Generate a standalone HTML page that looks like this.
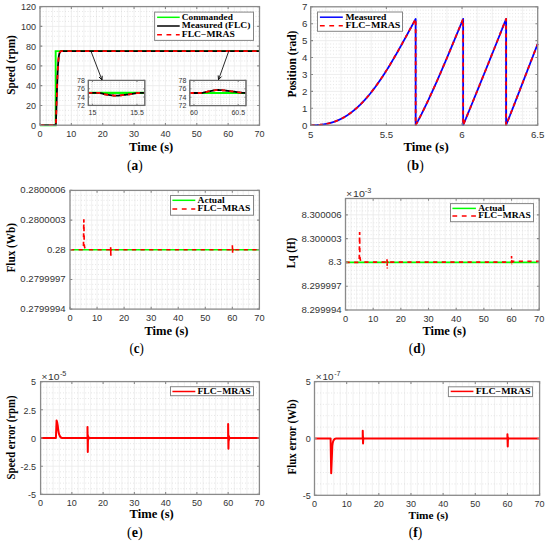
<!DOCTYPE html>
<html><head><meta charset="utf-8"><title>Figure</title>
<style>html,body{margin:0;padding:0;background:#fff;width:550px;height:543px;overflow:hidden}svg{display:block}</style>
</head><body>
<svg width="550" height="543" viewBox="0 0 550 543">
<style>
.mj{stroke:#eaeaea;stroke-width:0.8;fill:none}
.mv{stroke:#ededed;stroke-width:0.8;fill:none}
.mn{stroke:#d2d2d2;stroke-width:0.7;stroke-dasharray:0.8 2.0;fill:none}
.bx{fill:none;stroke:#8a8a8a;stroke-width:1.3}
.tk{fill:none;stroke:#8a8a8a;stroke-width:1.1}
</style>
<rect width="550" height="543" fill="#fff"/>
<line x1="46.27" y1="6.60" x2="46.27" y2="125.20" class="mv"/>
<line x1="52.54" y1="6.60" x2="52.54" y2="125.20" class="mv"/>
<line x1="58.81" y1="6.60" x2="58.81" y2="125.20" class="mv"/>
<line x1="65.09" y1="6.60" x2="65.09" y2="125.20" class="mv"/>
<line x1="77.63" y1="6.60" x2="77.63" y2="125.20" class="mv"/>
<line x1="83.90" y1="6.60" x2="83.90" y2="125.20" class="mv"/>
<line x1="90.17" y1="6.60" x2="90.17" y2="125.20" class="mv"/>
<line x1="96.44" y1="6.60" x2="96.44" y2="125.20" class="mv"/>
<line x1="108.99" y1="6.60" x2="108.99" y2="125.20" class="mv"/>
<line x1="115.26" y1="6.60" x2="115.26" y2="125.20" class="mv"/>
<line x1="121.53" y1="6.60" x2="121.53" y2="125.20" class="mv"/>
<line x1="127.80" y1="6.60" x2="127.80" y2="125.20" class="mv"/>
<line x1="140.34" y1="6.60" x2="140.34" y2="125.20" class="mv"/>
<line x1="146.61" y1="6.60" x2="146.61" y2="125.20" class="mv"/>
<line x1="152.89" y1="6.60" x2="152.89" y2="125.20" class="mv"/>
<line x1="159.16" y1="6.60" x2="159.16" y2="125.20" class="mv"/>
<line x1="171.70" y1="6.60" x2="171.70" y2="125.20" class="mv"/>
<line x1="177.97" y1="6.60" x2="177.97" y2="125.20" class="mv"/>
<line x1="184.24" y1="6.60" x2="184.24" y2="125.20" class="mv"/>
<line x1="190.51" y1="6.60" x2="190.51" y2="125.20" class="mv"/>
<line x1="203.06" y1="6.60" x2="203.06" y2="125.20" class="mv"/>
<line x1="209.33" y1="6.60" x2="209.33" y2="125.20" class="mv"/>
<line x1="215.60" y1="6.60" x2="215.60" y2="125.20" class="mv"/>
<line x1="221.87" y1="6.60" x2="221.87" y2="125.20" class="mv"/>
<line x1="234.41" y1="6.60" x2="234.41" y2="125.20" class="mv"/>
<line x1="240.69" y1="6.60" x2="240.69" y2="125.20" class="mv"/>
<line x1="246.96" y1="6.60" x2="246.96" y2="125.20" class="mv"/>
<line x1="253.23" y1="6.60" x2="253.23" y2="125.20" class="mv"/>
<line x1="40.00" y1="120.26" x2="259.50" y2="120.26" class="mn"/>
<line x1="40.00" y1="115.32" x2="259.50" y2="115.32" class="mn"/>
<line x1="40.00" y1="110.38" x2="259.50" y2="110.38" class="mn"/>
<line x1="40.00" y1="100.49" x2="259.50" y2="100.49" class="mn"/>
<line x1="40.00" y1="95.55" x2="259.50" y2="95.55" class="mn"/>
<line x1="40.00" y1="90.61" x2="259.50" y2="90.61" class="mn"/>
<line x1="40.00" y1="80.72" x2="259.50" y2="80.72" class="mn"/>
<line x1="40.00" y1="75.78" x2="259.50" y2="75.78" class="mn"/>
<line x1="40.00" y1="70.84" x2="259.50" y2="70.84" class="mn"/>
<line x1="40.00" y1="60.96" x2="259.50" y2="60.96" class="mn"/>
<line x1="40.00" y1="56.02" x2="259.50" y2="56.02" class="mn"/>
<line x1="40.00" y1="51.08" x2="259.50" y2="51.08" class="mn"/>
<line x1="40.00" y1="41.19" x2="259.50" y2="41.19" class="mn"/>
<line x1="40.00" y1="36.25" x2="259.50" y2="36.25" class="mn"/>
<line x1="40.00" y1="31.31" x2="259.50" y2="31.31" class="mn"/>
<line x1="40.00" y1="21.42" x2="259.50" y2="21.42" class="mn"/>
<line x1="40.00" y1="16.48" x2="259.50" y2="16.48" class="mn"/>
<line x1="40.00" y1="11.54" x2="259.50" y2="11.54" class="mn"/>
<line x1="71.36" y1="6.60" x2="71.36" y2="125.20" class="mj"/>
<line x1="102.71" y1="6.60" x2="102.71" y2="125.20" class="mj"/>
<line x1="134.07" y1="6.60" x2="134.07" y2="125.20" class="mj"/>
<line x1="165.43" y1="6.60" x2="165.43" y2="125.20" class="mj"/>
<line x1="196.79" y1="6.60" x2="196.79" y2="125.20" class="mj"/>
<line x1="228.14" y1="6.60" x2="228.14" y2="125.20" class="mj"/>
<line x1="40.00" y1="105.43" x2="259.50" y2="105.43" class="mj"/>
<line x1="40.00" y1="85.67" x2="259.50" y2="85.67" class="mj"/>
<line x1="40.00" y1="65.90" x2="259.50" y2="65.90" class="mj"/>
<line x1="40.00" y1="46.13" x2="259.50" y2="46.13" class="mj"/>
<line x1="40.00" y1="26.37" x2="259.50" y2="26.37" class="mj"/>
<path d="M40.00,125.20 L55.68,125.20 L55.68,51.08 L259.50,51.08" fill="none" stroke="#00ff00" stroke-width="1.9"/>
<path d="M40.00,125.20 L55.68,125.20 L55.68,125.20 L55.80,124.18 L55.92,122.14 L56.04,119.46 L56.15,116.32 L56.27,112.84 L56.39,109.14 L56.51,105.31 L56.63,101.42 L56.75,97.54 L56.87,93.72 L56.99,90.01 L57.11,86.44 L57.23,83.04 L57.35,79.82 L57.46,76.82 L57.58,74.02 L57.70,71.43 L57.82,69.06 L57.94,66.90 L58.06,64.95 L58.18,63.18 L58.30,61.60 L58.42,60.19 L58.54,58.94 L58.66,57.83 L58.77,56.86 L58.89,56.01 L59.01,55.27 L59.13,54.63 L59.25,54.08 L59.37,53.60 L59.49,53.19 L59.61,52.85 L59.73,52.55 L59.85,52.30 L59.97,52.09 L60.08,51.91 L60.20,51.76 L60.32,51.64 L60.44,51.54 L60.56,51.45 L60.68,51.38 L60.80,51.32 L60.92,51.27 L61.04,51.24 L61.16,51.20 L61.28,51.18 L61.39,51.16 L61.51,51.14 L61.63,51.13 L61.75,51.12 L61.87,51.11 L61.99,51.10 L62.11,51.10 L62.23,51.09 L62.35,51.09 L62.47,51.08 L62.59,51.08 L62.70,51.08 L62.82,51.08 L62.94,51.08 L63.06,51.08 L63.18,51.08 L63.30,51.08 L63.42,51.08 L63.54,51.08 L63.66,51.08 L63.78,51.08 L63.89,51.08 L64.01,51.08 L64.13,51.08 L64.25,51.08 L64.37,51.08 L64.49,51.08 L64.61,51.08 L64.73,51.08 L64.85,51.08 L64.97,51.08 L65.09,51.08 L259.50,51.08" fill="none" stroke="#000" stroke-width="1.8"/>
<path d="M40.00,125.20 L55.68,125.20 L55.68,125.20 L55.80,124.18 L55.92,122.14 L56.04,119.46 L56.15,116.32 L56.27,112.84 L56.39,109.14 L56.51,105.31 L56.63,101.42 L56.75,97.54 L56.87,93.72 L56.99,90.01 L57.11,86.44 L57.23,83.04 L57.35,79.82 L57.46,76.82 L57.58,74.02 L57.70,71.43 L57.82,69.06 L57.94,66.90 L58.06,64.95 L58.18,63.18 L58.30,61.60 L58.42,60.19 L58.54,58.94 L58.66,57.83 L58.77,56.86 L58.89,56.01 L59.01,55.27 L59.13,54.63 L59.25,54.08 L59.37,53.60 L59.49,53.19 L59.61,52.85 L59.73,52.55 L59.85,52.30 L59.97,52.09 L60.08,51.91 L60.20,51.76 L60.32,51.64 L60.44,51.54 L60.56,51.45 L60.68,51.38 L60.80,51.32 L60.92,51.27 L61.04,51.24 L61.16,51.20 L61.28,51.18 L61.39,51.16 L61.51,51.14 L61.63,51.13 L61.75,51.12 L61.87,51.11 L61.99,51.10 L62.11,51.10 L62.23,51.09 L62.35,51.09 L62.47,51.08 L62.59,51.08 L62.70,51.08 L62.82,51.08 L62.94,51.08 L63.06,51.08 L63.18,51.08 L63.30,51.08 L63.42,51.08 L63.54,51.08 L63.66,51.08 L63.78,51.08 L63.89,51.08 L64.01,51.08 L64.13,51.08 L64.25,51.08 L64.37,51.08 L64.49,51.08 L64.61,51.08 L64.73,51.08 L64.85,51.08 L64.97,51.08 L65.09,51.08 L259.50,51.08" fill="none" stroke="#ff0000" stroke-width="1.8" stroke-dasharray="4.4 4.4"/>
<path d="M40.00 125.20v-2.3M40.00 6.60v2.3M71.36 125.20v-2.3M71.36 6.60v2.3M102.71 125.20v-2.3M102.71 6.60v2.3M134.07 125.20v-2.3M134.07 6.60v2.3M165.43 125.20v-2.3M165.43 6.60v2.3M196.79 125.20v-2.3M196.79 6.60v2.3M228.14 125.20v-2.3M228.14 6.60v2.3M259.50 125.20v-2.3M259.50 6.60v2.3M40.00 125.20h2.3M259.50 125.20h-2.3M40.00 105.43h2.3M259.50 105.43h-2.3M40.00 85.67h2.3M259.50 85.67h-2.3M40.00 65.90h2.3M259.50 65.90h-2.3M40.00 46.13h2.3M259.50 46.13h-2.3M40.00 26.37h2.3M259.50 26.37h-2.3M40.00 6.60h2.3M259.50 6.60h-2.3" class="tk"/>
<rect x="40.00" y="6.60" width="219.50" height="118.60" class="bx"/>
<text transform="translate(40.00,137.10) scale(1.1,1)" text-anchor="middle" font-family='"Liberation Sans", sans-serif' font-weight="normal" font-size="8.2" fill="#333" >0</text>
<text transform="translate(71.36,137.10) scale(1.1,1)" text-anchor="middle" font-family='"Liberation Sans", sans-serif' font-weight="normal" font-size="8.2" fill="#333" >10</text>
<text transform="translate(102.71,137.10) scale(1.1,1)" text-anchor="middle" font-family='"Liberation Sans", sans-serif' font-weight="normal" font-size="8.2" fill="#333" >20</text>
<text transform="translate(134.07,137.10) scale(1.1,1)" text-anchor="middle" font-family='"Liberation Sans", sans-serif' font-weight="normal" font-size="8.2" fill="#333" >30</text>
<text transform="translate(165.43,137.10) scale(1.1,1)" text-anchor="middle" font-family='"Liberation Sans", sans-serif' font-weight="normal" font-size="8.2" fill="#333" >40</text>
<text transform="translate(196.79,137.10) scale(1.1,1)" text-anchor="middle" font-family='"Liberation Sans", sans-serif' font-weight="normal" font-size="8.2" fill="#333" >50</text>
<text transform="translate(228.14,137.10) scale(1.1,1)" text-anchor="middle" font-family='"Liberation Sans", sans-serif' font-weight="normal" font-size="8.2" fill="#333" >60</text>
<text transform="translate(259.50,137.10) scale(1.1,1)" text-anchor="middle" font-family='"Liberation Sans", sans-serif' font-weight="normal" font-size="8.2" fill="#333" >70</text>
<text transform="translate(36.00,128.90) scale(1.1,1)" text-anchor="end" font-family='"Liberation Sans", sans-serif' font-weight="normal" font-size="8.2" fill="#333" >0</text>
<text transform="translate(36.00,109.13) scale(1.1,1)" text-anchor="end" font-family='"Liberation Sans", sans-serif' font-weight="normal" font-size="8.2" fill="#333" >20</text>
<text transform="translate(36.00,89.37) scale(1.1,1)" text-anchor="end" font-family='"Liberation Sans", sans-serif' font-weight="normal" font-size="8.2" fill="#333" >40</text>
<text transform="translate(36.00,69.60) scale(1.1,1)" text-anchor="end" font-family='"Liberation Sans", sans-serif' font-weight="normal" font-size="8.2" fill="#333" >60</text>
<text transform="translate(36.00,49.83) scale(1.1,1)" text-anchor="end" font-family='"Liberation Sans", sans-serif' font-weight="normal" font-size="8.2" fill="#333" >80</text>
<text transform="translate(36.00,30.07) scale(1.1,1)" text-anchor="end" font-family='"Liberation Sans", sans-serif' font-weight="normal" font-size="8.2" fill="#333" >100</text>
<text transform="translate(36.00,10.30) scale(1.1,1)" text-anchor="end" font-family='"Liberation Sans", sans-serif' font-weight="normal" font-size="8.2" fill="#333" >120</text>
<rect x="88.3" y="80.4" width="56.50" height="25.00" fill="#fff"/>
<line x1="101.38" y1="80.40" x2="101.38" y2="105.40" class="mv"/>
<line x1="110.28" y1="80.40" x2="110.28" y2="105.40" class="mv"/>
<line x1="119.17" y1="80.40" x2="119.17" y2="105.40" class="mv"/>
<line x1="128.07" y1="80.40" x2="128.07" y2="105.40" class="mv"/>
<line x1="88.30" y1="103.32" x2="144.80" y2="103.32" class="mn"/>
<line x1="88.30" y1="101.23" x2="144.80" y2="101.23" class="mn"/>
<line x1="88.30" y1="99.15" x2="144.80" y2="99.15" class="mn"/>
<line x1="88.30" y1="94.98" x2="144.80" y2="94.98" class="mn"/>
<line x1="88.30" y1="92.90" x2="144.80" y2="92.90" class="mn"/>
<line x1="88.30" y1="90.82" x2="144.80" y2="90.82" class="mn"/>
<line x1="88.30" y1="86.65" x2="144.80" y2="86.65" class="mn"/>
<line x1="88.30" y1="84.57" x2="144.80" y2="84.57" class="mn"/>
<line x1="88.30" y1="82.48" x2="144.80" y2="82.48" class="mn"/>
<line x1="92.48" y1="80.40" x2="92.48" y2="105.40" class="mj"/>
<line x1="136.97" y1="80.40" x2="136.97" y2="105.40" class="mj"/>
<line x1="88.30" y1="97.07" x2="144.80" y2="97.07" class="mj"/>
<line x1="88.30" y1="88.73" x2="144.80" y2="88.73" class="mj"/>
<line x1="88.3" y1="92.90" x2="144.8" y2="92.90" stroke="#00ff00" stroke-width="2.2"/>
<path d="M88.30,92.90 L89.02,92.90 L89.73,92.90 L90.45,92.90 L91.16,92.90 L91.88,92.90 L92.59,92.90 L93.31,92.90 L94.02,92.90 L94.74,92.90 L95.45,92.90 L96.17,92.90 L96.88,92.90 L97.60,92.90 L98.31,92.90 L99.03,92.92 L99.74,92.99 L100.46,93.11 L101.17,93.27 L101.89,93.46 L102.60,93.66 L103.32,93.87 L104.03,94.07 L104.75,94.25 L105.46,94.41 L106.18,94.53 L106.89,94.63 L107.61,94.74 L108.33,94.85 L109.04,94.96 L109.76,95.06 L110.47,95.16 L111.19,95.26 L111.90,95.34 L112.62,95.42 L113.33,95.48 L114.05,95.54 L114.76,95.57 L115.48,95.60 L116.19,95.60 L116.91,95.59 L117.62,95.57 L118.34,95.53 L119.05,95.48 L119.77,95.43 L120.48,95.37 L121.20,95.30 L121.91,95.22 L122.63,95.14 L123.34,95.05 L124.06,94.97 L124.77,94.88 L125.49,94.79 L126.21,94.70 L126.92,94.62 L127.64,94.54 L128.35,94.46 L129.07,94.37 L129.78,94.27 L130.50,94.16 L131.21,94.05 L131.93,93.93 L132.64,93.81 L133.36,93.68 L134.07,93.56 L134.79,93.45 L135.50,93.33 L136.22,93.23 L136.93,93.14 L137.65,93.06 L138.36,92.99 L139.08,92.94 L139.79,92.91 L140.51,92.90 L141.22,92.90 L141.94,92.90 L142.65,92.90 L143.37,92.90 L144.08,92.90 L144.80,92.90" fill="none" stroke="#000" stroke-width="1.8"/>
<path d="M88.30,92.90 L89.02,92.90 L89.73,92.90 L90.45,92.90 L91.16,92.90 L91.88,92.90 L92.59,92.90 L93.31,92.90 L94.02,92.90 L94.74,92.90 L95.45,92.90 L96.17,92.90 L96.88,92.90 L97.60,92.90 L98.31,92.90 L99.03,92.92 L99.74,92.99 L100.46,93.11 L101.17,93.27 L101.89,93.46 L102.60,93.66 L103.32,93.87 L104.03,94.07 L104.75,94.25 L105.46,94.41 L106.18,94.53 L106.89,94.63 L107.61,94.74 L108.33,94.85 L109.04,94.96 L109.76,95.06 L110.47,95.16 L111.19,95.26 L111.90,95.34 L112.62,95.42 L113.33,95.48 L114.05,95.54 L114.76,95.57 L115.48,95.60 L116.19,95.60 L116.91,95.59 L117.62,95.57 L118.34,95.53 L119.05,95.48 L119.77,95.43 L120.48,95.37 L121.20,95.30 L121.91,95.22 L122.63,95.14 L123.34,95.05 L124.06,94.97 L124.77,94.88 L125.49,94.79 L126.21,94.70 L126.92,94.62 L127.64,94.54 L128.35,94.46 L129.07,94.37 L129.78,94.27 L130.50,94.16 L131.21,94.05 L131.93,93.93 L132.64,93.81 L133.36,93.68 L134.07,93.56 L134.79,93.45 L135.50,93.33 L136.22,93.23 L136.93,93.14 L137.65,93.06 L138.36,92.99 L139.08,92.94 L139.79,92.91 L140.51,92.90 L141.22,92.90 L141.94,92.90 L142.65,92.90 L143.37,92.90 L144.08,92.90 L144.80,92.90" fill="none" stroke="#ff0000" stroke-width="1.8" stroke-dasharray="4 4"/>
<path d="M92.48 105.40v-1.6M92.48 80.40v1.6M136.97 105.40v-1.6M136.97 80.40v1.6M88.30 105.40h1.6M144.80 105.40h-1.6M88.30 97.07h1.6M144.80 97.07h-1.6M88.30 88.73h1.6M144.80 88.73h-1.6M88.30 80.40h1.6M144.80 80.40h-1.6" class="tk"/>
<rect x="88.30" y="80.40" width="56.50" height="25.00" class="bx"/>
<rect x="88.3" y="80.4" width="56.50" height="25.00" fill="none" stroke="#666" stroke-width="0.9"/>
<text transform="translate(84.90,107.90) scale(1.0,1)" text-anchor="end" font-family='"Liberation Sans", sans-serif' font-weight="normal" font-size="7.0" fill="#333" >72</text>
<text transform="translate(84.90,99.57) scale(1.0,1)" text-anchor="end" font-family='"Liberation Sans", sans-serif' font-weight="normal" font-size="7.0" fill="#333" >74</text>
<text transform="translate(84.90,91.23) scale(1.0,1)" text-anchor="end" font-family='"Liberation Sans", sans-serif' font-weight="normal" font-size="7.0" fill="#333" >76</text>
<text transform="translate(84.90,82.90) scale(1.0,1)" text-anchor="end" font-family='"Liberation Sans", sans-serif' font-weight="normal" font-size="7.0" fill="#333" >78</text>
<text transform="translate(92.48,115.10) scale(1.0,1)" text-anchor="middle" font-family='"Liberation Sans", sans-serif' font-weight="normal" font-size="7.0" fill="#333" >15</text>
<text transform="translate(136.97,115.10) scale(1.0,1)" text-anchor="middle" font-family='"Liberation Sans", sans-serif' font-weight="normal" font-size="7.0" fill="#333" >15.5</text>
<rect x="189.8" y="80.4" width="56.20" height="25.20" fill="#fff"/>
<line x1="202.81" y1="80.40" x2="202.81" y2="105.60" class="mv"/>
<line x1="211.66" y1="80.40" x2="211.66" y2="105.60" class="mv"/>
<line x1="220.51" y1="80.40" x2="220.51" y2="105.60" class="mv"/>
<line x1="229.36" y1="80.40" x2="229.36" y2="105.60" class="mv"/>
<line x1="189.80" y1="103.50" x2="246.00" y2="103.50" class="mn"/>
<line x1="189.80" y1="101.40" x2="246.00" y2="101.40" class="mn"/>
<line x1="189.80" y1="99.30" x2="246.00" y2="99.30" class="mn"/>
<line x1="189.80" y1="95.10" x2="246.00" y2="95.10" class="mn"/>
<line x1="189.80" y1="93.00" x2="246.00" y2="93.00" class="mn"/>
<line x1="189.80" y1="90.90" x2="246.00" y2="90.90" class="mn"/>
<line x1="189.80" y1="86.70" x2="246.00" y2="86.70" class="mn"/>
<line x1="189.80" y1="84.60" x2="246.00" y2="84.60" class="mn"/>
<line x1="189.80" y1="82.50" x2="246.00" y2="82.50" class="mn"/>
<line x1="193.96" y1="80.40" x2="193.96" y2="105.60" class="mj"/>
<line x1="238.21" y1="80.40" x2="238.21" y2="105.60" class="mj"/>
<line x1="189.80" y1="97.20" x2="246.00" y2="97.20" class="mj"/>
<line x1="189.80" y1="88.80" x2="246.00" y2="88.80" class="mj"/>
<line x1="189.8" y1="93.00" x2="246.0" y2="93.00" stroke="#00ff00" stroke-width="2.2"/>
<path d="M189.80,93.00 L190.51,93.00 L191.22,93.00 L191.93,93.00 L192.65,93.00 L193.36,93.00 L194.07,93.00 L194.78,93.00 L195.49,93.00 L196.20,93.00 L196.91,93.00 L197.63,93.00 L198.34,93.00 L199.05,93.00 L199.76,93.00 L200.47,93.00 L201.18,92.97 L201.89,92.90 L202.61,92.79 L203.32,92.65 L204.03,92.49 L204.74,92.32 L205.45,92.13 L206.16,91.94 L206.87,91.76 L207.58,91.59 L208.30,91.43 L209.01,91.30 L209.72,91.18 L210.43,91.04 L211.14,90.91 L211.85,90.77 L212.56,90.64 L213.28,90.51 L213.99,90.39 L214.70,90.28 L215.41,90.18 L216.12,90.10 L216.83,90.04 L217.54,90.01 L218.26,90.00 L218.97,90.01 L219.68,90.03 L220.39,90.07 L221.10,90.11 L221.81,90.17 L222.52,90.23 L223.24,90.30 L223.95,90.38 L224.66,90.47 L225.37,90.55 L226.08,90.64 L226.79,90.74 L227.50,90.83 L228.22,90.93 L228.93,91.02 L229.64,91.12 L230.35,91.21 L231.06,91.29 L231.77,91.38 L232.48,91.45 L233.19,91.54 L233.91,91.63 L234.62,91.73 L235.33,91.84 L236.04,91.95 L236.75,92.05 L237.46,92.16 L238.17,92.27 L238.89,92.38 L239.60,92.48 L240.31,92.58 L241.02,92.67 L241.73,92.75 L242.44,92.82 L243.15,92.88 L243.87,92.93 L244.58,92.97 L245.29,92.99 L246.00,93.00" fill="none" stroke="#000" stroke-width="1.8"/>
<path d="M189.80,93.00 L190.51,93.00 L191.22,93.00 L191.93,93.00 L192.65,93.00 L193.36,93.00 L194.07,93.00 L194.78,93.00 L195.49,93.00 L196.20,93.00 L196.91,93.00 L197.63,93.00 L198.34,93.00 L199.05,93.00 L199.76,93.00 L200.47,93.00 L201.18,92.97 L201.89,92.90 L202.61,92.79 L203.32,92.65 L204.03,92.49 L204.74,92.32 L205.45,92.13 L206.16,91.94 L206.87,91.76 L207.58,91.59 L208.30,91.43 L209.01,91.30 L209.72,91.18 L210.43,91.04 L211.14,90.91 L211.85,90.77 L212.56,90.64 L213.28,90.51 L213.99,90.39 L214.70,90.28 L215.41,90.18 L216.12,90.10 L216.83,90.04 L217.54,90.01 L218.26,90.00 L218.97,90.01 L219.68,90.03 L220.39,90.07 L221.10,90.11 L221.81,90.17 L222.52,90.23 L223.24,90.30 L223.95,90.38 L224.66,90.47 L225.37,90.55 L226.08,90.64 L226.79,90.74 L227.50,90.83 L228.22,90.93 L228.93,91.02 L229.64,91.12 L230.35,91.21 L231.06,91.29 L231.77,91.38 L232.48,91.45 L233.19,91.54 L233.91,91.63 L234.62,91.73 L235.33,91.84 L236.04,91.95 L236.75,92.05 L237.46,92.16 L238.17,92.27 L238.89,92.38 L239.60,92.48 L240.31,92.58 L241.02,92.67 L241.73,92.75 L242.44,92.82 L243.15,92.88 L243.87,92.93 L244.58,92.97 L245.29,92.99 L246.00,93.00" fill="none" stroke="#ff0000" stroke-width="1.8" stroke-dasharray="4 4"/>
<path d="M193.96 105.60v-1.6M193.96 80.40v1.6M238.21 105.60v-1.6M238.21 80.40v1.6M189.80 105.60h1.6M246.00 105.60h-1.6M189.80 97.20h1.6M246.00 97.20h-1.6M189.80 88.80h1.6M246.00 88.80h-1.6M189.80 80.40h1.6M246.00 80.40h-1.6" class="tk"/>
<rect x="189.80" y="80.40" width="56.20" height="25.20" class="bx"/>
<rect x="189.8" y="80.4" width="56.20" height="25.20" fill="none" stroke="#666" stroke-width="0.9"/>
<text transform="translate(186.40,108.10) scale(1.0,1)" text-anchor="end" font-family='"Liberation Sans", sans-serif' font-weight="normal" font-size="7.0" fill="#333" >72</text>
<text transform="translate(186.40,99.70) scale(1.0,1)" text-anchor="end" font-family='"Liberation Sans", sans-serif' font-weight="normal" font-size="7.0" fill="#333" >74</text>
<text transform="translate(186.40,91.30) scale(1.0,1)" text-anchor="end" font-family='"Liberation Sans", sans-serif' font-weight="normal" font-size="7.0" fill="#333" >76</text>
<text transform="translate(186.40,82.90) scale(1.0,1)" text-anchor="end" font-family='"Liberation Sans", sans-serif' font-weight="normal" font-size="7.0" fill="#333" >78</text>
<text transform="translate(193.96,115.10) scale(1.0,1)" text-anchor="middle" font-family='"Liberation Sans", sans-serif' font-weight="normal" font-size="7.0" fill="#333" >60</text>
<text transform="translate(238.21,115.10) scale(1.0,1)" text-anchor="middle" font-family='"Liberation Sans", sans-serif' font-weight="normal" font-size="7.0" fill="#333" >60.5</text>
<line x1="90.9" y1="51.0" x2="102.0" y2="80.0" stroke="#111" stroke-width="0.9"/>
<path d="M98.96,76.96 L102.0,80.0 L102.23,75.71" fill="none" stroke="#111" stroke-width="1.0"/>
<line x1="228.9" y1="50.7" x2="218.5" y2="79.7" stroke="#111" stroke-width="0.9"/>
<path d="M218.17,75.41 L218.5,79.7 L221.48,76.60" fill="none" stroke="#111" stroke-width="1.0"/>
<rect x="154.6" y="12.1" width="98.90" height="28.30" fill="#fff" stroke="#858585" stroke-width="1.0"/>
<line x1="157.1" y1="17.3" x2="179.7" y2="17.3" stroke="#00ff00" stroke-width="1.5"/>
<text x="181.80" y="19.70" textLength="51.00" lengthAdjust="spacingAndGlyphs" font-family='"Liberation Serif", serif' font-weight="bold" font-size="8.4" fill="#000">Commanded</text>
<line x1="157.1" y1="26.0" x2="179.7" y2="26.0" stroke="#000" stroke-width="1.5"/>
<text x="181.80" y="28.40" textLength="68.60" lengthAdjust="spacingAndGlyphs" font-family='"Liberation Serif", serif' font-weight="bold" font-size="8.4" fill="#000">Measured (FLC)</text>
<line x1="157.1" y1="34.7" x2="179.7" y2="34.7" stroke="#ff0000" stroke-width="1.5" stroke-dasharray="4.8 4.6"/>
<text x="181.80" y="37.10" textLength="53.00" lengthAdjust="spacingAndGlyphs" font-family='"Liberation Serif", serif' font-weight="bold" font-size="8.4" fill="#000">FLC−MRAS</text>
<text transform="translate(14.80,94.80) scale(1.0,1) rotate(-90)" textLength="59.60" lengthAdjust="spacingAndGlyphs" font-family='"Liberation Serif", serif' font-weight="bold" font-size="12.3" fill="#000">Speed (rpm)</text>
<text x="129.10" y="150.50" textLength="44.20" lengthAdjust="spacingAndGlyphs" font-family='"Liberation Serif", serif' font-weight="bold" font-size="11.8" fill="#000">Time (s)</text>
<text x="127.00" y="169.60" textLength="15.60" lengthAdjust="spacingAndGlyphs" font-family='"Liberation Serif", serif' font-size="14.0" fill="#000">(<tspan font-weight="bold">a</tspan>)</text>
<line x1="325.83" y1="6.80" x2="325.83" y2="125.20" class="mv"/>
<line x1="340.97" y1="6.80" x2="340.97" y2="125.20" class="mv"/>
<line x1="356.10" y1="6.80" x2="356.10" y2="125.20" class="mv"/>
<line x1="371.23" y1="6.80" x2="371.23" y2="125.20" class="mv"/>
<line x1="401.50" y1="6.80" x2="401.50" y2="125.20" class="mv"/>
<line x1="416.63" y1="6.80" x2="416.63" y2="125.20" class="mv"/>
<line x1="431.77" y1="6.80" x2="431.77" y2="125.20" class="mv"/>
<line x1="446.90" y1="6.80" x2="446.90" y2="125.20" class="mv"/>
<line x1="477.17" y1="6.80" x2="477.17" y2="125.20" class="mv"/>
<line x1="492.30" y1="6.80" x2="492.30" y2="125.20" class="mv"/>
<line x1="507.43" y1="6.80" x2="507.43" y2="125.20" class="mv"/>
<line x1="522.57" y1="6.80" x2="522.57" y2="125.20" class="mv"/>
<line x1="310.70" y1="121.82" x2="537.70" y2="121.82" class="mn"/>
<line x1="310.70" y1="118.43" x2="537.70" y2="118.43" class="mn"/>
<line x1="310.70" y1="115.05" x2="537.70" y2="115.05" class="mn"/>
<line x1="310.70" y1="111.67" x2="537.70" y2="111.67" class="mn"/>
<line x1="310.70" y1="104.90" x2="537.70" y2="104.90" class="mn"/>
<line x1="310.70" y1="101.52" x2="537.70" y2="101.52" class="mn"/>
<line x1="310.70" y1="98.14" x2="537.70" y2="98.14" class="mn"/>
<line x1="310.70" y1="94.75" x2="537.70" y2="94.75" class="mn"/>
<line x1="310.70" y1="87.99" x2="537.70" y2="87.99" class="mn"/>
<line x1="310.70" y1="84.61" x2="537.70" y2="84.61" class="mn"/>
<line x1="310.70" y1="81.22" x2="537.70" y2="81.22" class="mn"/>
<line x1="310.70" y1="77.84" x2="537.70" y2="77.84" class="mn"/>
<line x1="310.70" y1="71.07" x2="537.70" y2="71.07" class="mn"/>
<line x1="310.70" y1="67.69" x2="537.70" y2="67.69" class="mn"/>
<line x1="310.70" y1="64.31" x2="537.70" y2="64.31" class="mn"/>
<line x1="310.70" y1="60.93" x2="537.70" y2="60.93" class="mn"/>
<line x1="310.70" y1="54.16" x2="537.70" y2="54.16" class="mn"/>
<line x1="310.70" y1="50.78" x2="537.70" y2="50.78" class="mn"/>
<line x1="310.70" y1="47.39" x2="537.70" y2="47.39" class="mn"/>
<line x1="310.70" y1="44.01" x2="537.70" y2="44.01" class="mn"/>
<line x1="310.70" y1="37.25" x2="537.70" y2="37.25" class="mn"/>
<line x1="310.70" y1="33.86" x2="537.70" y2="33.86" class="mn"/>
<line x1="310.70" y1="30.48" x2="537.70" y2="30.48" class="mn"/>
<line x1="310.70" y1="27.10" x2="537.70" y2="27.10" class="mn"/>
<line x1="310.70" y1="20.33" x2="537.70" y2="20.33" class="mn"/>
<line x1="310.70" y1="16.95" x2="537.70" y2="16.95" class="mn"/>
<line x1="310.70" y1="13.57" x2="537.70" y2="13.57" class="mn"/>
<line x1="310.70" y1="10.18" x2="537.70" y2="10.18" class="mn"/>
<line x1="386.37" y1="6.80" x2="386.37" y2="125.20" class="mj"/>
<line x1="462.03" y1="6.80" x2="462.03" y2="125.20" class="mj"/>
<line x1="310.70" y1="108.29" x2="537.70" y2="108.29" class="mj"/>
<line x1="310.70" y1="91.37" x2="537.70" y2="91.37" class="mj"/>
<line x1="310.70" y1="74.46" x2="537.70" y2="74.46" class="mj"/>
<line x1="310.70" y1="57.54" x2="537.70" y2="57.54" class="mj"/>
<line x1="310.70" y1="40.63" x2="537.70" y2="40.63" class="mj"/>
<line x1="310.70" y1="23.71" x2="537.70" y2="23.71" class="mj"/>
<path d="M310.70,125.20 L310.85,125.20 L311.00,125.20 L311.15,125.20 L311.31,125.20 L311.46,125.20 L311.61,125.20 L311.76,125.20 L311.91,125.19 L312.06,125.19 L312.21,125.19 L312.36,125.19 L312.52,125.19 L312.67,125.19 L312.82,125.18 L312.97,125.18 L313.12,125.18 L313.27,125.18 L313.42,125.17 L313.58,125.17 L313.73,125.16 L313.88,125.16 L314.03,125.16 L314.18,125.15 L314.33,125.15 L314.48,125.14 L314.63,125.14 L314.79,125.13 L314.94,125.13 L315.09,125.12 L315.24,125.12 L315.39,125.11 L315.54,125.10 L315.69,125.10 L315.85,125.09 L316.00,125.08 L316.15,125.08 L316.30,125.07 L316.45,125.06 L316.60,125.05 L316.75,125.05 L316.90,125.04 L317.06,125.03 L317.21,125.02 L317.36,125.01 L317.51,125.00 L317.66,124.99 L317.81,124.98 L317.96,124.97 L318.12,124.96 L318.27,124.95 L318.42,124.94 L318.57,124.92 L318.72,124.91 L318.87,124.90 L319.02,124.89 L319.17,124.88 L319.33,124.86 L319.48,124.85 L319.63,124.84 L319.78,124.82 L319.93,124.81 L320.08,124.79 L320.23,124.78 L320.39,124.76 L320.54,124.75 L320.69,124.73 L320.84,124.71 L320.99,124.70 L321.14,124.68 L321.29,124.66 L321.44,124.65 L321.60,124.63 L321.75,124.61 L321.90,124.59 L322.05,124.57 L322.20,124.55 L322.35,124.53 L322.50,124.51 L322.66,124.49 L322.81,124.47 L322.96,124.45 L323.11,124.43 L323.26,124.41 L323.41,124.39 L323.56,124.36 L323.71,124.34 L323.87,124.32 L324.02,124.29 L324.17,124.27 L324.32,124.25 L324.47,124.22 L324.62,124.20 L324.77,124.17 L324.93,124.15 L325.08,124.12 L325.23,124.09 L325.38,124.07 L325.53,124.04 L325.68,124.01 L325.83,123.98 L325.98,123.95 L326.14,123.93 L326.29,123.90 L326.44,123.87 L326.59,123.84 L326.74,123.81 L326.89,123.78 L327.04,123.74 L327.20,123.71 L327.35,123.68 L327.50,123.65 L327.65,123.61 L327.80,123.58 L327.95,123.55 L328.10,123.51 L328.25,123.48 L328.41,123.44 L328.56,123.41 L328.71,123.37 L328.86,123.34 L329.01,123.30 L329.16,123.26 L329.31,123.22 L329.47,123.19 L329.62,123.15 L329.77,123.11 L329.92,123.07 L330.07,123.03 L330.22,122.99 L330.37,122.95 L330.52,122.91 L330.68,122.87 L330.83,122.82 L330.98,122.78 L331.13,122.74 L331.28,122.70 L331.43,122.65 L331.58,122.61 L331.74,122.56 L331.89,122.52 L332.04,122.47 L332.19,122.43 L332.34,122.38 L332.49,122.33 L332.64,122.28 L332.79,122.24 L332.95,122.19 L333.10,122.14 L333.25,122.09 L333.40,122.04 L333.55,121.99 L333.70,121.94 L333.85,121.89 L334.01,121.83 L334.16,121.78 L334.31,121.73 L334.46,121.68 L334.61,121.62 L334.76,121.57 L334.91,121.51 L335.06,121.46 L335.22,121.40 L335.37,121.35 L335.52,121.29 L335.67,121.23 L335.82,121.17 L335.97,121.12 L336.12,121.06 L336.28,121.00 L336.43,120.94 L336.58,120.88 L336.73,120.82 L336.88,120.76 L337.03,120.69 L337.18,120.63 L337.33,120.57 L337.49,120.50 L337.64,120.44 L337.79,120.38 L337.94,120.31 L338.09,120.25 L338.24,120.18 L338.39,120.11 L338.55,120.05 L338.70,119.98 L338.85,119.91 L339.00,119.84 L339.15,119.77 L339.30,119.70 L339.45,119.63 L339.60,119.56 L339.76,119.49 L339.91,119.42 L340.06,119.35 L340.21,119.28 L340.36,119.20 L340.51,119.13 L340.66,119.05 L340.82,118.98 L340.97,118.90 L341.12,118.83 L341.27,118.75 L341.42,118.67 L341.57,118.60 L341.72,118.52 L341.87,118.44 L342.03,118.36 L342.18,118.28 L342.33,118.20 L342.48,118.12 L342.63,118.04 L342.78,117.96 L342.93,117.87 L343.09,117.79 L343.24,117.71 L343.39,117.62 L343.54,117.54 L343.69,117.45 L343.84,117.37 L343.99,117.28 L344.14,117.19 L344.30,117.11 L344.45,117.02 L344.60,116.93 L344.75,116.84 L344.90,116.75 L345.05,116.66 L345.20,116.57 L345.36,116.48 L345.51,116.39 L345.66,116.29 L345.81,116.20 L345.96,116.11 L346.11,116.01 L346.26,115.92 L346.41,115.82 L346.57,115.73 L346.72,115.63 L346.87,115.53 L347.02,115.43 L347.17,115.34 L347.32,115.24 L347.47,115.14 L347.63,115.04 L347.78,114.94 L347.93,114.84 L348.08,114.73 L348.23,114.63 L348.38,114.53 L348.53,114.43 L348.68,114.32 L348.84,114.22 L348.99,114.11 L349.14,114.01 L349.29,113.90 L349.44,113.79 L349.59,113.69 L349.74,113.58 L349.90,113.47 L350.05,113.36 L350.20,113.25 L350.35,113.14 L350.50,113.03 L350.65,112.92 L350.80,112.81 L350.95,112.69 L351.11,112.58 L351.26,112.47 L351.41,112.35 L351.56,112.24 L351.71,112.12 L351.86,112.00 L352.01,111.89 L352.17,111.77 L352.32,111.65 L352.47,111.53 L352.62,111.41 L352.77,111.29 L352.92,111.17 L353.07,111.05 L353.22,110.93 L353.38,110.81 L353.53,110.69 L353.68,110.56 L353.83,110.44 L353.98,110.31 L354.13,110.19 L354.28,110.06 L354.44,109.94 L354.59,109.81 L354.74,109.68 L354.89,109.56 L355.04,109.43 L355.19,109.30 L355.34,109.17 L355.49,109.04 L355.65,108.91 L355.80,108.78 L355.95,108.64 L356.10,108.51 L356.25,108.38 L356.40,108.24 L356.55,108.11 L356.71,107.97 L356.86,107.84 L357.01,107.70 L357.16,107.56 L357.31,107.43 L357.46,107.29 L357.61,107.15 L357.76,107.01 L357.92,106.87 L358.07,106.73 L358.22,106.59 L358.37,106.45 L358.52,106.31 L358.67,106.16 L358.82,106.02 L358.98,105.88 L359.13,105.73 L359.28,105.59 L359.43,105.44 L359.58,105.29 L359.73,105.15 L359.88,105.00 L360.03,104.85 L360.19,104.70 L360.34,104.55 L360.49,104.40 L360.64,104.25 L360.79,104.10 L360.94,103.95 L361.09,103.80 L361.25,103.65 L361.40,103.49 L361.55,103.34 L361.70,103.18 L361.85,103.03 L362.00,102.87 L362.15,102.72 L362.30,102.56 L362.46,102.40 L362.61,102.24 L362.76,102.08 L362.91,101.93 L363.06,101.77 L363.21,101.61 L363.36,101.44 L363.52,101.28 L363.67,101.12 L363.82,100.96 L363.97,100.79 L364.12,100.63 L364.27,100.47 L364.42,100.30 L364.57,100.13 L364.73,99.97 L364.88,99.80 L365.03,99.63 L365.18,99.47 L365.33,99.30 L365.48,99.13 L365.63,98.96 L365.79,98.79 L365.94,98.62 L366.09,98.45 L366.24,98.27 L366.39,98.10 L366.54,97.93 L366.69,97.75 L366.84,97.58 L367.00,97.40 L367.15,97.23 L367.30,97.05 L367.45,96.88 L367.60,96.70 L367.75,96.52 L367.90,96.34 L368.06,96.16 L368.21,95.98 L368.36,95.80 L368.51,95.62 L368.66,95.44 L368.81,95.26 L368.96,95.08 L369.11,94.90 L369.27,94.71 L369.42,94.53 L369.57,94.34 L369.72,94.16 L369.87,93.97 L370.02,93.79 L370.17,93.60 L370.33,93.41 L370.48,93.22 L370.63,93.04 L370.78,92.85 L370.93,92.66 L371.08,92.47 L371.23,92.28 L371.38,92.09 L371.54,91.89 L371.69,91.70 L371.84,91.51 L371.99,91.31 L372.14,91.12 L372.29,90.93 L372.44,90.73 L372.60,90.54 L372.75,90.34 L372.90,90.14 L373.05,89.95 L373.20,89.75 L373.35,89.55 L373.50,89.35 L373.65,89.15 L373.81,88.95 L373.96,88.75 L374.11,88.55 L374.26,88.35 L374.41,88.15 L374.56,87.94 L374.71,87.74 L374.87,87.54 L375.02,87.33 L375.17,87.13 L375.32,86.92 L375.47,86.72 L375.62,86.51 L375.77,86.30 L375.92,86.10 L376.08,85.89 L376.23,85.68 L376.38,85.47 L376.53,85.26 L376.68,85.05 L376.83,84.84 L376.98,84.63 L377.14,84.42 L377.29,84.21 L377.44,83.99 L377.59,83.78 L377.74,83.57 L377.89,83.35 L378.04,83.14 L378.19,82.92 L378.35,82.71 L378.50,82.49 L378.65,82.27 L378.80,82.06 L378.95,81.84 L379.10,81.62 L379.25,81.40 L379.41,81.18 L379.56,80.96 L379.71,80.74 L379.86,80.52 L380.01,80.30 L380.16,80.08 L380.31,79.86 L380.46,79.64 L380.62,79.41 L380.77,79.19 L380.92,78.97 L381.07,78.74 L381.22,78.52 L381.37,78.29 L381.52,78.07 L381.68,77.84 L381.83,77.61 L381.98,77.39 L382.13,77.16 L382.28,76.93 L382.43,76.70 L382.58,76.47 L382.73,76.24 L382.89,76.01 L383.04,75.78 L383.19,75.55 L383.34,75.32 L383.49,75.09 L383.64,74.86 L383.79,74.62 L383.95,74.39 L384.10,74.16 L384.25,73.92 L384.40,73.69 L384.55,73.45 L384.70,73.22 L384.85,72.98 L385.00,72.75 L385.16,72.51 L385.31,72.27 L385.46,72.03 L385.61,71.80 L385.76,71.56 L385.91,71.32 L386.06,71.08 L386.22,70.84 L386.37,70.60 L386.52,70.36 L386.67,70.12 L386.82,69.88 L386.97,69.63 L387.12,69.39 L387.27,69.15 L387.43,68.91 L387.58,68.66 L387.73,68.42 L387.88,68.18 L388.03,67.93 L388.18,67.69 L388.33,67.44 L388.49,67.19 L388.64,66.95 L388.79,66.70 L388.94,66.45 L389.09,66.21 L389.24,65.96 L389.39,65.71 L389.54,65.46 L389.70,65.21 L389.85,64.96 L390.00,64.71 L390.15,64.46 L390.30,64.21 L390.45,63.96 L390.60,63.71 L390.76,63.46 L390.91,63.21 L391.06,62.96 L391.21,62.70 L391.36,62.45 L391.51,62.20 L391.66,61.94 L391.81,61.69 L391.97,61.43 L392.12,61.18 L392.27,60.93 L392.42,60.67 L392.57,60.41 L392.72,60.16 L392.87,59.90 L393.03,59.64 L393.18,59.39 L393.33,59.13 L393.48,58.87 L393.63,58.61 L393.78,58.36 L393.93,58.10 L394.08,57.84 L394.24,57.58 L394.39,57.32 L394.54,57.06 L394.69,56.80 L394.84,56.54 L394.99,56.28 L395.14,56.02 L395.30,55.75 L395.45,55.49 L395.60,55.23 L395.75,54.97 L395.90,54.70 L396.05,54.44 L396.20,54.18 L396.35,53.91 L396.51,53.65 L396.66,53.39 L396.81,53.12 L396.96,52.86 L397.11,52.59 L397.26,52.33 L397.41,52.06 L397.57,51.80 L397.72,51.53 L397.87,51.26 L398.02,51.00 L398.17,50.73 L398.32,50.46 L398.47,50.20 L398.62,49.93 L398.78,49.66 L398.93,49.39 L399.08,49.12 L399.23,48.86 L399.38,48.59 L399.53,48.32 L399.68,48.05 L399.84,47.78 L399.99,47.51 L400.14,47.24 L400.29,46.97 L400.44,46.70 L400.59,46.43 L400.74,46.16 L400.89,45.89 L401.05,45.62 L401.20,45.34 L401.35,45.07 L401.50,44.80 L401.65,44.53 L401.80,44.26 L401.95,43.98 L402.11,43.71 L402.26,43.44 L402.41,43.17 L402.56,42.89 L402.71,42.62 L402.86,42.35 L403.01,42.07 L403.16,41.80 L403.32,41.52 L403.47,41.25 L403.62,40.98 L403.77,40.70 L403.92,40.43 L404.07,40.15 L404.22,39.88 L404.38,39.60 L404.53,39.33 L404.68,39.05 L404.83,38.78 L404.98,38.50 L405.13,38.23 L405.28,37.95 L405.43,37.67 L405.59,37.40 L405.74,37.12 L405.89,36.85 L406.04,36.57 L406.19,36.29 L406.34,36.02 L406.49,35.74 L406.65,35.46 L406.80,35.19 L406.95,34.91 L407.10,34.63 L407.25,34.35 L407.40,34.08 L407.55,33.80 L407.70,33.52 L407.86,33.24 L408.01,32.97 L408.16,32.69 L408.31,32.41 L408.46,32.13 L408.61,31.86 L408.76,31.58 L408.92,31.30 L409.07,31.02 L409.22,30.74 L409.37,30.47 L409.52,30.19 L409.67,29.91 L409.82,29.63 L409.97,29.35 L410.13,29.07 L410.28,28.80 L410.43,28.52 L410.58,28.24 L410.73,27.96 L410.88,27.68 L411.03,27.40 L411.19,27.13 L411.34,26.85 L411.49,26.57 L411.64,26.29 L411.79,26.01 L411.94,25.73 L412.09,25.45 L412.24,25.18 L412.40,24.90 L412.55,24.62 L412.70,24.34 L412.85,24.06 L413.00,23.78 L413.15,23.51 L413.30,23.23 L413.46,22.95 L413.61,22.67 L413.76,22.39 L413.91,22.12 L414.06,21.84 L414.21,21.56 L414.36,21.28 L414.51,21.00 L414.67,20.73 L414.82,20.45 L414.97,20.17 L415.12,19.89 L415.27,19.62 L415.42,19.34 L415.57,19.06 L415.65,18.92 L415.65,125.20 L415.73,125.06 L415.88,124.78 L416.03,124.50 L416.18,124.23 L416.33,123.95 L416.48,123.67 L416.63,123.38 L416.78,123.10 L416.94,122.82 L417.09,122.54 L417.24,122.25 L417.39,121.97 L417.54,121.69 L417.69,121.40 L417.84,121.11 L418.00,120.83 L418.15,120.54 L418.30,120.25 L418.45,119.97 L418.60,119.68 L418.75,119.39 L418.90,119.10 L419.05,118.81 L419.21,118.52 L419.36,118.23 L419.51,117.93 L419.66,117.64 L419.81,117.35 L419.96,117.05 L420.11,116.76 L420.27,116.47 L420.42,116.17 L420.57,115.87 L420.72,115.58 L420.87,115.28 L421.02,114.98 L421.17,114.69 L421.32,114.39 L421.48,114.09 L421.63,113.79 L421.78,113.49 L421.93,113.19 L422.08,112.89 L422.23,112.58 L422.38,112.28 L422.54,111.98 L422.69,111.68 L422.84,111.37 L422.99,111.07 L423.14,110.76 L423.29,110.46 L423.44,110.15 L423.59,109.85 L423.75,109.54 L423.90,109.23 L424.05,108.92 L424.20,108.62 L424.35,108.31 L424.50,108.00 L424.65,107.69 L424.81,107.38 L424.96,107.07 L425.11,106.76 L425.26,106.44 L425.41,106.13 L425.56,105.82 L425.71,105.51 L425.86,105.19 L426.02,104.88 L426.17,104.56 L426.32,104.25 L426.47,103.93 L426.62,103.62 L426.77,103.30 L426.92,102.98 L427.08,102.67 L427.23,102.35 L427.38,102.03 L427.53,101.71 L427.68,101.39 L427.83,101.07 L427.98,100.75 L428.13,100.43 L428.29,100.11 L428.44,99.79 L428.59,99.47 L428.74,99.15 L428.89,98.82 L429.04,98.50 L429.19,98.18 L429.35,97.85 L429.50,97.53 L429.65,97.20 L429.80,96.88 L429.95,96.55 L430.10,96.23 L430.25,95.90 L430.40,95.58 L430.56,95.25 L430.71,94.92 L430.86,94.59 L431.01,94.26 L431.16,93.94 L431.31,93.61 L431.46,93.28 L431.62,92.95 L431.77,92.62 L431.92,92.29 L432.07,91.95 L432.22,91.62 L432.37,91.29 L432.52,90.96 L432.67,90.63 L432.83,90.29 L432.98,89.96 L433.13,89.63 L433.28,89.29 L433.43,88.96 L433.58,88.62 L433.73,88.29 L433.89,87.95 L434.04,87.62 L434.19,87.28 L434.34,86.94 L434.49,86.61 L434.64,86.27 L434.79,85.93 L434.94,85.59 L435.10,85.26 L435.25,84.92 L435.40,84.58 L435.55,84.24 L435.70,83.90 L435.85,83.56 L436.00,83.22 L436.16,82.88 L436.31,82.54 L436.46,82.19 L436.61,81.85 L436.76,81.51 L436.91,81.17 L437.06,80.83 L437.21,80.48 L437.37,80.14 L437.52,79.80 L437.67,79.45 L437.82,79.11 L437.97,78.76 L438.12,78.42 L438.27,78.07 L438.43,77.73 L438.58,77.38 L438.73,77.04 L438.88,76.69 L439.03,76.34 L439.18,76.00 L439.33,75.65 L439.48,75.30 L439.64,74.96 L439.79,74.61 L439.94,74.26 L440.09,73.91 L440.24,73.56 L440.39,73.21 L440.54,72.86 L440.70,72.52 L440.85,72.17 L441.00,71.82 L441.15,71.46 L441.30,71.11 L441.45,70.76 L441.60,70.41 L441.75,70.06 L441.91,69.71 L442.06,69.36 L442.21,69.01 L442.36,68.65 L442.51,68.30 L442.66,67.95 L442.81,67.60 L442.97,67.24 L443.12,66.89 L443.27,66.53 L443.42,66.18 L443.57,65.83 L443.72,65.47 L443.87,65.12 L444.02,64.76 L444.18,64.41 L444.33,64.05 L444.48,63.70 L444.63,63.34 L444.78,62.99 L444.93,62.63 L445.08,62.27 L445.24,61.92 L445.39,61.56 L445.54,61.20 L445.69,60.85 L445.84,60.49 L445.99,60.13 L446.14,59.77 L446.29,59.42 L446.45,59.06 L446.60,58.70 L446.75,58.34 L446.90,57.98 L447.05,57.62 L447.20,57.27 L447.35,56.91 L447.51,56.55 L447.66,56.19 L447.81,55.83 L447.96,55.47 L448.11,55.11 L448.26,54.75 L448.41,54.39 L448.56,54.03 L448.72,53.67 L448.87,53.31 L449.02,52.95 L449.17,52.58 L449.32,52.22 L449.47,51.86 L449.62,51.50 L449.78,51.14 L449.93,50.78 L450.08,50.42 L450.23,50.05 L450.38,49.69 L450.53,49.33 L450.68,48.97 L450.83,48.61 L450.99,48.24 L451.14,47.88 L451.29,47.52 L451.44,47.15 L451.59,46.79 L451.74,46.43 L451.89,46.07 L452.05,45.70 L452.20,45.34 L452.35,44.97 L452.50,44.61 L452.65,44.25 L452.80,43.88 L452.95,43.52 L453.10,43.16 L453.26,42.79 L453.41,42.43 L453.56,42.06 L453.71,41.70 L453.86,41.33 L454.01,40.97 L454.16,40.61 L454.32,40.24 L454.47,39.88 L454.62,39.51 L454.77,39.15 L454.92,38.78 L455.07,38.42 L455.22,38.05 L455.37,37.69 L455.53,37.32 L455.68,36.96 L455.83,36.59 L455.98,36.22 L456.13,35.86 L456.28,35.49 L456.43,35.13 L456.59,34.76 L456.74,34.40 L456.89,34.03 L457.04,33.67 L457.19,33.30 L457.34,32.93 L457.49,32.57 L457.64,32.20 L457.80,31.84 L457.95,31.47 L458.10,31.11 L458.25,30.74 L458.40,30.37 L458.55,30.01 L458.70,29.64 L458.86,29.28 L459.01,28.91 L459.16,28.54 L459.31,28.18 L459.46,27.81 L459.61,27.45 L459.76,27.08 L459.91,26.71 L460.07,26.35 L460.22,25.98 L460.37,25.62 L460.52,25.25 L460.67,24.88 L460.82,24.52 L460.97,24.15 L461.13,23.79 L461.28,23.42 L461.43,23.06 L461.58,22.69 L461.73,22.32 L461.88,21.96 L462.03,21.59 L462.18,21.23 L462.34,20.86 L462.49,20.50 L462.64,20.13 L462.79,19.76 L462.94,19.40 L463.09,19.03 L463.14,18.92 L463.14,125.20 L463.24,124.94 L463.40,124.58 L463.55,124.21 L463.70,123.85 L463.85,123.48 L464.00,123.12 L464.15,122.75 L464.30,122.38 L464.45,122.02 L464.61,121.65 L464.76,121.29 L464.91,120.92 L465.06,120.55 L465.21,120.19 L465.36,119.82 L465.51,119.46 L465.67,119.09 L465.82,118.72 L465.97,118.36 L466.12,117.99 L466.27,117.62 L466.42,117.25 L466.57,116.89 L466.72,116.52 L466.88,116.15 L467.03,115.79 L467.18,115.42 L467.33,115.05 L467.48,114.68 L467.63,114.32 L467.78,113.95 L467.94,113.58 L468.09,113.21 L468.24,112.85 L468.39,112.48 L468.54,112.11 L468.69,111.74 L468.84,111.37 L468.99,111.01 L469.15,110.64 L469.30,110.27 L469.45,109.90 L469.60,109.53 L469.75,109.17 L469.90,108.80 L470.05,108.43 L470.21,108.06 L470.36,107.69 L470.51,107.32 L470.66,106.95 L470.81,106.58 L470.96,106.22 L471.11,105.85 L471.26,105.48 L471.42,105.11 L471.57,104.74 L471.72,104.37 L471.87,104.00 L472.02,103.63 L472.17,103.26 L472.32,102.89 L472.48,102.52 L472.63,102.15 L472.78,101.78 L472.93,101.41 L473.08,101.04 L473.23,100.67 L473.38,100.30 L473.53,99.93 L473.69,99.56 L473.84,99.19 L473.99,98.82 L474.14,98.45 L474.29,98.08 L474.44,97.71 L474.59,97.34 L474.75,96.97 L474.90,96.60 L475.05,96.23 L475.20,95.86 L475.35,95.49 L475.50,95.11 L475.65,94.74 L475.80,94.37 L475.96,94.00 L476.11,93.63 L476.26,93.26 L476.41,92.89 L476.56,92.52 L476.71,92.14 L476.86,91.77 L477.02,91.40 L477.17,91.03 L477.32,90.66 L477.47,90.29 L477.62,89.91 L477.77,89.54 L477.92,89.17 L478.07,88.80 L478.23,88.42 L478.38,88.05 L478.53,87.68 L478.68,87.31 L478.83,86.94 L478.98,86.56 L479.13,86.19 L479.29,85.82 L479.44,85.45 L479.59,85.07 L479.74,84.70 L479.89,84.33 L480.04,83.95 L480.19,83.58 L480.34,83.21 L480.50,82.83 L480.65,82.46 L480.80,82.09 L480.95,81.71 L481.10,81.34 L481.25,80.97 L481.40,80.59 L481.56,80.22 L481.71,79.85 L481.86,79.47 L482.01,79.10 L482.16,78.73 L482.31,78.35 L482.46,77.98 L482.61,77.60 L482.77,77.23 L482.92,76.86 L483.07,76.48 L483.22,76.11 L483.37,75.73 L483.52,75.36 L483.67,74.98 L483.83,74.61 L483.98,74.24 L484.13,73.86 L484.28,73.49 L484.43,73.11 L484.58,72.74 L484.73,72.36 L484.88,71.99 L485.04,71.61 L485.19,71.24 L485.34,70.86 L485.49,70.49 L485.64,70.11 L485.79,69.74 L485.94,69.36 L486.10,68.99 L486.25,68.61 L486.40,68.24 L486.55,67.86 L486.70,67.48 L486.85,67.11 L487.00,66.73 L487.15,66.36 L487.31,65.98 L487.46,65.61 L487.61,65.23 L487.76,64.85 L487.91,64.48 L488.06,64.10 L488.21,63.73 L488.37,63.35 L488.52,62.97 L488.67,62.60 L488.82,62.22 L488.97,61.84 L489.12,61.47 L489.27,61.09 L489.42,60.71 L489.58,60.34 L489.73,59.96 L489.88,59.58 L490.03,59.21 L490.18,58.83 L490.33,58.45 L490.48,58.08 L490.64,57.70 L490.79,57.32 L490.94,56.94 L491.09,56.57 L491.24,56.19 L491.39,55.81 L491.54,55.44 L491.69,55.06 L491.85,54.68 L492.00,54.30 L492.15,53.92 L492.30,53.55 L492.45,53.17 L492.60,52.79 L492.75,52.41 L492.91,52.04 L493.06,51.66 L493.21,51.28 L493.36,50.90 L493.51,50.52 L493.66,50.15 L493.81,49.77 L493.96,49.39 L494.12,49.01 L494.27,48.63 L494.42,48.25 L494.57,47.88 L494.72,47.50 L494.87,47.12 L495.02,46.74 L495.18,46.36 L495.33,45.98 L495.48,45.60 L495.63,45.22 L495.78,44.85 L495.93,44.47 L496.08,44.09 L496.23,43.71 L496.39,43.33 L496.54,42.95 L496.69,42.57 L496.84,42.19 L496.99,41.81 L497.14,41.43 L497.29,41.05 L497.45,40.67 L497.60,40.29 L497.75,39.92 L497.90,39.54 L498.05,39.16 L498.20,38.78 L498.35,38.40 L498.50,38.02 L498.66,37.64 L498.81,37.26 L498.96,36.88 L499.11,36.50 L499.26,36.12 L499.41,35.74 L499.56,35.36 L499.72,34.98 L499.87,34.60 L500.02,34.22 L500.17,33.84 L500.32,33.45 L500.47,33.07 L500.62,32.69 L500.77,32.31 L500.93,31.93 L501.08,31.55 L501.23,31.17 L501.38,30.79 L501.53,30.41 L501.68,30.03 L501.83,29.65 L501.99,29.27 L502.14,28.89 L502.29,28.50 L502.44,28.12 L502.59,27.74 L502.74,27.36 L502.89,26.98 L503.04,26.60 L503.20,26.22 L503.35,25.84 L503.50,25.45 L503.65,25.07 L503.80,24.69 L503.95,24.31 L504.10,23.93 L504.26,23.55 L504.41,23.16 L504.56,22.78 L504.71,22.40 L504.86,22.02 L505.01,21.64 L505.16,21.26 L505.31,20.87 L505.47,20.49 L505.62,20.11 L505.77,19.73 L505.92,19.34 L506.07,18.96 L506.09,18.92 L506.09,125.20 L506.22,124.86 L506.37,124.47 L506.53,124.09 L506.68,123.71 L506.83,123.33 L506.98,122.94 L507.13,122.56 L507.28,122.18 L507.43,121.79 L507.58,121.41 L507.74,121.03 L507.89,120.64 L508.04,120.26 L508.19,119.87 L508.34,119.49 L508.49,119.11 L508.64,118.72 L508.80,118.34 L508.95,117.95 L509.10,117.57 L509.25,117.18 L509.40,116.80 L509.55,116.41 L509.70,116.03 L509.85,115.64 L510.01,115.26 L510.16,114.87 L510.31,114.49 L510.46,114.10 L510.61,113.72 L510.76,113.33 L510.91,112.95 L511.07,112.56 L511.22,112.17 L511.37,111.79 L511.52,111.40 L511.67,111.02 L511.82,110.63 L511.97,110.24 L512.12,109.86 L512.28,109.47 L512.43,109.08 L512.58,108.70 L512.73,108.31 L512.88,107.92 L513.03,107.53 L513.18,107.15 L513.34,106.76 L513.49,106.37 L513.64,105.99 L513.79,105.60 L513.94,105.21 L514.09,104.82 L514.24,104.43 L514.39,104.05 L514.55,103.66 L514.70,103.27 L514.85,102.88 L515.00,102.49 L515.15,102.11 L515.30,101.72 L515.45,101.33 L515.61,100.94 L515.76,100.55 L515.91,100.16 L516.06,99.77 L516.21,99.39 L516.36,99.00 L516.51,98.61 L516.66,98.22 L516.82,97.83 L516.97,97.44 L517.12,97.05 L517.27,96.66 L517.42,96.27 L517.57,95.88 L517.72,95.49 L517.88,95.10 L518.03,94.72 L518.18,94.33 L518.33,93.94 L518.48,93.55 L518.63,93.16 L518.78,92.77 L518.93,92.38 L519.09,91.99 L519.24,91.60 L519.39,91.21 L519.54,90.82 L519.69,90.43 L519.84,90.04 L519.99,89.64 L520.15,89.25 L520.30,88.86 L520.45,88.47 L520.60,88.08 L520.75,87.69 L520.90,87.30 L521.05,86.91 L521.20,86.52 L521.36,86.13 L521.51,85.74 L521.66,85.35 L521.81,84.96 L521.96,84.57 L522.11,84.18 L522.26,83.78 L522.42,83.39 L522.57,83.00 L522.72,82.61 L522.87,82.22 L523.02,81.83 L523.17,81.44 L523.32,81.05 L523.47,80.65 L523.63,80.26 L523.78,79.87 L523.93,79.48 L524.08,79.09 L524.23,78.70 L524.38,78.31 L524.53,77.91 L524.69,77.52 L524.84,77.13 L524.99,76.74 L525.14,76.35 L525.29,75.96 L525.44,75.57 L525.59,75.17 L525.74,74.78 L525.90,74.39 L526.05,74.00 L526.20,73.61 L526.35,73.21 L526.50,72.82 L526.65,72.43 L526.80,72.04 L526.96,71.65 L527.11,71.26 L527.26,70.86 L527.41,70.47 L527.56,70.08 L527.71,69.69 L527.86,69.30 L528.01,68.90 L528.17,68.51 L528.32,68.12 L528.47,67.73 L528.62,67.34 L528.77,66.94 L528.92,66.55 L529.07,66.16 L529.23,65.77 L529.38,65.38 L529.53,64.98 L529.68,64.59 L529.83,64.20 L529.98,63.81 L530.13,63.42 L530.28,63.03 L530.44,62.63 L530.59,62.24 L530.74,61.85 L530.89,61.46 L531.04,61.07 L531.19,60.67 L531.34,60.28 L531.50,59.89 L531.65,59.50 L531.80,59.11 L531.95,58.71 L532.10,58.32 L532.25,57.93 L532.40,57.54 L532.55,57.15 L532.71,56.76 L532.86,56.36 L533.01,55.97 L533.16,55.58 L533.31,55.19 L533.46,54.80 L533.61,54.41 L533.77,54.01 L533.92,53.62 L534.07,53.23 L534.22,52.84 L534.37,52.45 L534.52,52.06 L534.67,51.66 L534.82,51.27 L534.98,50.88 L535.13,50.49 L535.28,50.10 L535.43,49.71 L535.58,49.32 L535.73,48.93 L535.88,48.53 L536.04,48.14 L536.19,47.75 L536.34,47.36 L536.49,46.97 L536.64,46.58 L536.79,46.19 L536.94,45.80 L537.09,45.41 L537.25,45.01 L537.40,44.62 L537.55,44.23 L537.70,43.84" fill="none" stroke="#0000ff" stroke-width="1.8" stroke-linejoin="round"/>
<path d="M310.70,125.20 L310.85,125.20 L311.00,125.20 L311.15,125.20 L311.31,125.20 L311.46,125.20 L311.61,125.20 L311.76,125.20 L311.91,125.19 L312.06,125.19 L312.21,125.19 L312.36,125.19 L312.52,125.19 L312.67,125.19 L312.82,125.18 L312.97,125.18 L313.12,125.18 L313.27,125.18 L313.42,125.17 L313.58,125.17 L313.73,125.16 L313.88,125.16 L314.03,125.16 L314.18,125.15 L314.33,125.15 L314.48,125.14 L314.63,125.14 L314.79,125.13 L314.94,125.13 L315.09,125.12 L315.24,125.12 L315.39,125.11 L315.54,125.10 L315.69,125.10 L315.85,125.09 L316.00,125.08 L316.15,125.08 L316.30,125.07 L316.45,125.06 L316.60,125.05 L316.75,125.05 L316.90,125.04 L317.06,125.03 L317.21,125.02 L317.36,125.01 L317.51,125.00 L317.66,124.99 L317.81,124.98 L317.96,124.97 L318.12,124.96 L318.27,124.95 L318.42,124.94 L318.57,124.92 L318.72,124.91 L318.87,124.90 L319.02,124.89 L319.17,124.88 L319.33,124.86 L319.48,124.85 L319.63,124.84 L319.78,124.82 L319.93,124.81 L320.08,124.79 L320.23,124.78 L320.39,124.76 L320.54,124.75 L320.69,124.73 L320.84,124.71 L320.99,124.70 L321.14,124.68 L321.29,124.66 L321.44,124.65 L321.60,124.63 L321.75,124.61 L321.90,124.59 L322.05,124.57 L322.20,124.55 L322.35,124.53 L322.50,124.51 L322.66,124.49 L322.81,124.47 L322.96,124.45 L323.11,124.43 L323.26,124.41 L323.41,124.39 L323.56,124.36 L323.71,124.34 L323.87,124.32 L324.02,124.29 L324.17,124.27 L324.32,124.25 L324.47,124.22 L324.62,124.20 L324.77,124.17 L324.93,124.15 L325.08,124.12 L325.23,124.09 L325.38,124.07 L325.53,124.04 L325.68,124.01 L325.83,123.98 L325.98,123.95 L326.14,123.93 L326.29,123.90 L326.44,123.87 L326.59,123.84 L326.74,123.81 L326.89,123.78 L327.04,123.74 L327.20,123.71 L327.35,123.68 L327.50,123.65 L327.65,123.61 L327.80,123.58 L327.95,123.55 L328.10,123.51 L328.25,123.48 L328.41,123.44 L328.56,123.41 L328.71,123.37 L328.86,123.34 L329.01,123.30 L329.16,123.26 L329.31,123.22 L329.47,123.19 L329.62,123.15 L329.77,123.11 L329.92,123.07 L330.07,123.03 L330.22,122.99 L330.37,122.95 L330.52,122.91 L330.68,122.87 L330.83,122.82 L330.98,122.78 L331.13,122.74 L331.28,122.70 L331.43,122.65 L331.58,122.61 L331.74,122.56 L331.89,122.52 L332.04,122.47 L332.19,122.43 L332.34,122.38 L332.49,122.33 L332.64,122.28 L332.79,122.24 L332.95,122.19 L333.10,122.14 L333.25,122.09 L333.40,122.04 L333.55,121.99 L333.70,121.94 L333.85,121.89 L334.01,121.83 L334.16,121.78 L334.31,121.73 L334.46,121.68 L334.61,121.62 L334.76,121.57 L334.91,121.51 L335.06,121.46 L335.22,121.40 L335.37,121.35 L335.52,121.29 L335.67,121.23 L335.82,121.17 L335.97,121.12 L336.12,121.06 L336.28,121.00 L336.43,120.94 L336.58,120.88 L336.73,120.82 L336.88,120.76 L337.03,120.69 L337.18,120.63 L337.33,120.57 L337.49,120.50 L337.64,120.44 L337.79,120.38 L337.94,120.31 L338.09,120.25 L338.24,120.18 L338.39,120.11 L338.55,120.05 L338.70,119.98 L338.85,119.91 L339.00,119.84 L339.15,119.77 L339.30,119.70 L339.45,119.63 L339.60,119.56 L339.76,119.49 L339.91,119.42 L340.06,119.35 L340.21,119.28 L340.36,119.20 L340.51,119.13 L340.66,119.05 L340.82,118.98 L340.97,118.90 L341.12,118.83 L341.27,118.75 L341.42,118.67 L341.57,118.60 L341.72,118.52 L341.87,118.44 L342.03,118.36 L342.18,118.28 L342.33,118.20 L342.48,118.12 L342.63,118.04 L342.78,117.96 L342.93,117.87 L343.09,117.79 L343.24,117.71 L343.39,117.62 L343.54,117.54 L343.69,117.45 L343.84,117.37 L343.99,117.28 L344.14,117.19 L344.30,117.11 L344.45,117.02 L344.60,116.93 L344.75,116.84 L344.90,116.75 L345.05,116.66 L345.20,116.57 L345.36,116.48 L345.51,116.39 L345.66,116.29 L345.81,116.20 L345.96,116.11 L346.11,116.01 L346.26,115.92 L346.41,115.82 L346.57,115.73 L346.72,115.63 L346.87,115.53 L347.02,115.43 L347.17,115.34 L347.32,115.24 L347.47,115.14 L347.63,115.04 L347.78,114.94 L347.93,114.84 L348.08,114.73 L348.23,114.63 L348.38,114.53 L348.53,114.43 L348.68,114.32 L348.84,114.22 L348.99,114.11 L349.14,114.01 L349.29,113.90 L349.44,113.79 L349.59,113.69 L349.74,113.58 L349.90,113.47 L350.05,113.36 L350.20,113.25 L350.35,113.14 L350.50,113.03 L350.65,112.92 L350.80,112.81 L350.95,112.69 L351.11,112.58 L351.26,112.47 L351.41,112.35 L351.56,112.24 L351.71,112.12 L351.86,112.00 L352.01,111.89 L352.17,111.77 L352.32,111.65 L352.47,111.53 L352.62,111.41 L352.77,111.29 L352.92,111.17 L353.07,111.05 L353.22,110.93 L353.38,110.81 L353.53,110.69 L353.68,110.56 L353.83,110.44 L353.98,110.31 L354.13,110.19 L354.28,110.06 L354.44,109.94 L354.59,109.81 L354.74,109.68 L354.89,109.56 L355.04,109.43 L355.19,109.30 L355.34,109.17 L355.49,109.04 L355.65,108.91 L355.80,108.78 L355.95,108.64 L356.10,108.51 L356.25,108.38 L356.40,108.24 L356.55,108.11 L356.71,107.97 L356.86,107.84 L357.01,107.70 L357.16,107.56 L357.31,107.43 L357.46,107.29 L357.61,107.15 L357.76,107.01 L357.92,106.87 L358.07,106.73 L358.22,106.59 L358.37,106.45 L358.52,106.31 L358.67,106.16 L358.82,106.02 L358.98,105.88 L359.13,105.73 L359.28,105.59 L359.43,105.44 L359.58,105.29 L359.73,105.15 L359.88,105.00 L360.03,104.85 L360.19,104.70 L360.34,104.55 L360.49,104.40 L360.64,104.25 L360.79,104.10 L360.94,103.95 L361.09,103.80 L361.25,103.65 L361.40,103.49 L361.55,103.34 L361.70,103.18 L361.85,103.03 L362.00,102.87 L362.15,102.72 L362.30,102.56 L362.46,102.40 L362.61,102.24 L362.76,102.08 L362.91,101.93 L363.06,101.77 L363.21,101.61 L363.36,101.44 L363.52,101.28 L363.67,101.12 L363.82,100.96 L363.97,100.79 L364.12,100.63 L364.27,100.47 L364.42,100.30 L364.57,100.13 L364.73,99.97 L364.88,99.80 L365.03,99.63 L365.18,99.47 L365.33,99.30 L365.48,99.13 L365.63,98.96 L365.79,98.79 L365.94,98.62 L366.09,98.45 L366.24,98.27 L366.39,98.10 L366.54,97.93 L366.69,97.75 L366.84,97.58 L367.00,97.40 L367.15,97.23 L367.30,97.05 L367.45,96.88 L367.60,96.70 L367.75,96.52 L367.90,96.34 L368.06,96.16 L368.21,95.98 L368.36,95.80 L368.51,95.62 L368.66,95.44 L368.81,95.26 L368.96,95.08 L369.11,94.90 L369.27,94.71 L369.42,94.53 L369.57,94.34 L369.72,94.16 L369.87,93.97 L370.02,93.79 L370.17,93.60 L370.33,93.41 L370.48,93.22 L370.63,93.04 L370.78,92.85 L370.93,92.66 L371.08,92.47 L371.23,92.28 L371.38,92.09 L371.54,91.89 L371.69,91.70 L371.84,91.51 L371.99,91.31 L372.14,91.12 L372.29,90.93 L372.44,90.73 L372.60,90.54 L372.75,90.34 L372.90,90.14 L373.05,89.95 L373.20,89.75 L373.35,89.55 L373.50,89.35 L373.65,89.15 L373.81,88.95 L373.96,88.75 L374.11,88.55 L374.26,88.35 L374.41,88.15 L374.56,87.94 L374.71,87.74 L374.87,87.54 L375.02,87.33 L375.17,87.13 L375.32,86.92 L375.47,86.72 L375.62,86.51 L375.77,86.30 L375.92,86.10 L376.08,85.89 L376.23,85.68 L376.38,85.47 L376.53,85.26 L376.68,85.05 L376.83,84.84 L376.98,84.63 L377.14,84.42 L377.29,84.21 L377.44,83.99 L377.59,83.78 L377.74,83.57 L377.89,83.35 L378.04,83.14 L378.19,82.92 L378.35,82.71 L378.50,82.49 L378.65,82.27 L378.80,82.06 L378.95,81.84 L379.10,81.62 L379.25,81.40 L379.41,81.18 L379.56,80.96 L379.71,80.74 L379.86,80.52 L380.01,80.30 L380.16,80.08 L380.31,79.86 L380.46,79.64 L380.62,79.41 L380.77,79.19 L380.92,78.97 L381.07,78.74 L381.22,78.52 L381.37,78.29 L381.52,78.07 L381.68,77.84 L381.83,77.61 L381.98,77.39 L382.13,77.16 L382.28,76.93 L382.43,76.70 L382.58,76.47 L382.73,76.24 L382.89,76.01 L383.04,75.78 L383.19,75.55 L383.34,75.32 L383.49,75.09 L383.64,74.86 L383.79,74.62 L383.95,74.39 L384.10,74.16 L384.25,73.92 L384.40,73.69 L384.55,73.45 L384.70,73.22 L384.85,72.98 L385.00,72.75 L385.16,72.51 L385.31,72.27 L385.46,72.03 L385.61,71.80 L385.76,71.56 L385.91,71.32 L386.06,71.08 L386.22,70.84 L386.37,70.60 L386.52,70.36 L386.67,70.12 L386.82,69.88 L386.97,69.63 L387.12,69.39 L387.27,69.15 L387.43,68.91 L387.58,68.66 L387.73,68.42 L387.88,68.18 L388.03,67.93 L388.18,67.69 L388.33,67.44 L388.49,67.19 L388.64,66.95 L388.79,66.70 L388.94,66.45 L389.09,66.21 L389.24,65.96 L389.39,65.71 L389.54,65.46 L389.70,65.21 L389.85,64.96 L390.00,64.71 L390.15,64.46 L390.30,64.21 L390.45,63.96 L390.60,63.71 L390.76,63.46 L390.91,63.21 L391.06,62.96 L391.21,62.70 L391.36,62.45 L391.51,62.20 L391.66,61.94 L391.81,61.69 L391.97,61.43 L392.12,61.18 L392.27,60.93 L392.42,60.67 L392.57,60.41 L392.72,60.16 L392.87,59.90 L393.03,59.64 L393.18,59.39 L393.33,59.13 L393.48,58.87 L393.63,58.61 L393.78,58.36 L393.93,58.10 L394.08,57.84 L394.24,57.58 L394.39,57.32 L394.54,57.06 L394.69,56.80 L394.84,56.54 L394.99,56.28 L395.14,56.02 L395.30,55.75 L395.45,55.49 L395.60,55.23 L395.75,54.97 L395.90,54.70 L396.05,54.44 L396.20,54.18 L396.35,53.91 L396.51,53.65 L396.66,53.39 L396.81,53.12 L396.96,52.86 L397.11,52.59 L397.26,52.33 L397.41,52.06 L397.57,51.80 L397.72,51.53 L397.87,51.26 L398.02,51.00 L398.17,50.73 L398.32,50.46 L398.47,50.20 L398.62,49.93 L398.78,49.66 L398.93,49.39 L399.08,49.12 L399.23,48.86 L399.38,48.59 L399.53,48.32 L399.68,48.05 L399.84,47.78 L399.99,47.51 L400.14,47.24 L400.29,46.97 L400.44,46.70 L400.59,46.43 L400.74,46.16 L400.89,45.89 L401.05,45.62 L401.20,45.34 L401.35,45.07 L401.50,44.80 L401.65,44.53 L401.80,44.26 L401.95,43.98 L402.11,43.71 L402.26,43.44 L402.41,43.17 L402.56,42.89 L402.71,42.62 L402.86,42.35 L403.01,42.07 L403.16,41.80 L403.32,41.52 L403.47,41.25 L403.62,40.98 L403.77,40.70 L403.92,40.43 L404.07,40.15 L404.22,39.88 L404.38,39.60 L404.53,39.33 L404.68,39.05 L404.83,38.78 L404.98,38.50 L405.13,38.23 L405.28,37.95 L405.43,37.67 L405.59,37.40 L405.74,37.12 L405.89,36.85 L406.04,36.57 L406.19,36.29 L406.34,36.02 L406.49,35.74 L406.65,35.46 L406.80,35.19 L406.95,34.91 L407.10,34.63 L407.25,34.35 L407.40,34.08 L407.55,33.80 L407.70,33.52 L407.86,33.24 L408.01,32.97 L408.16,32.69 L408.31,32.41 L408.46,32.13 L408.61,31.86 L408.76,31.58 L408.92,31.30 L409.07,31.02 L409.22,30.74 L409.37,30.47 L409.52,30.19 L409.67,29.91 L409.82,29.63 L409.97,29.35 L410.13,29.07 L410.28,28.80 L410.43,28.52 L410.58,28.24 L410.73,27.96 L410.88,27.68 L411.03,27.40 L411.19,27.13 L411.34,26.85 L411.49,26.57 L411.64,26.29 L411.79,26.01 L411.94,25.73 L412.09,25.45 L412.24,25.18 L412.40,24.90 L412.55,24.62 L412.70,24.34 L412.85,24.06 L413.00,23.78 L413.15,23.51 L413.30,23.23 L413.46,22.95 L413.61,22.67 L413.76,22.39 L413.91,22.12 L414.06,21.84 L414.21,21.56 L414.36,21.28 L414.51,21.00 L414.67,20.73 L414.82,20.45 L414.97,20.17 L415.12,19.89 L415.27,19.62 L415.42,19.34 L415.57,19.06 L415.65,18.92 L415.65,125.20 L415.73,125.06 L415.88,124.78 L416.03,124.50 L416.18,124.23 L416.33,123.95 L416.48,123.67 L416.63,123.38 L416.78,123.10 L416.94,122.82 L417.09,122.54 L417.24,122.25 L417.39,121.97 L417.54,121.69 L417.69,121.40 L417.84,121.11 L418.00,120.83 L418.15,120.54 L418.30,120.25 L418.45,119.97 L418.60,119.68 L418.75,119.39 L418.90,119.10 L419.05,118.81 L419.21,118.52 L419.36,118.23 L419.51,117.93 L419.66,117.64 L419.81,117.35 L419.96,117.05 L420.11,116.76 L420.27,116.47 L420.42,116.17 L420.57,115.87 L420.72,115.58 L420.87,115.28 L421.02,114.98 L421.17,114.69 L421.32,114.39 L421.48,114.09 L421.63,113.79 L421.78,113.49 L421.93,113.19 L422.08,112.89 L422.23,112.58 L422.38,112.28 L422.54,111.98 L422.69,111.68 L422.84,111.37 L422.99,111.07 L423.14,110.76 L423.29,110.46 L423.44,110.15 L423.59,109.85 L423.75,109.54 L423.90,109.23 L424.05,108.92 L424.20,108.62 L424.35,108.31 L424.50,108.00 L424.65,107.69 L424.81,107.38 L424.96,107.07 L425.11,106.76 L425.26,106.44 L425.41,106.13 L425.56,105.82 L425.71,105.51 L425.86,105.19 L426.02,104.88 L426.17,104.56 L426.32,104.25 L426.47,103.93 L426.62,103.62 L426.77,103.30 L426.92,102.98 L427.08,102.67 L427.23,102.35 L427.38,102.03 L427.53,101.71 L427.68,101.39 L427.83,101.07 L427.98,100.75 L428.13,100.43 L428.29,100.11 L428.44,99.79 L428.59,99.47 L428.74,99.15 L428.89,98.82 L429.04,98.50 L429.19,98.18 L429.35,97.85 L429.50,97.53 L429.65,97.20 L429.80,96.88 L429.95,96.55 L430.10,96.23 L430.25,95.90 L430.40,95.58 L430.56,95.25 L430.71,94.92 L430.86,94.59 L431.01,94.26 L431.16,93.94 L431.31,93.61 L431.46,93.28 L431.62,92.95 L431.77,92.62 L431.92,92.29 L432.07,91.95 L432.22,91.62 L432.37,91.29 L432.52,90.96 L432.67,90.63 L432.83,90.29 L432.98,89.96 L433.13,89.63 L433.28,89.29 L433.43,88.96 L433.58,88.62 L433.73,88.29 L433.89,87.95 L434.04,87.62 L434.19,87.28 L434.34,86.94 L434.49,86.61 L434.64,86.27 L434.79,85.93 L434.94,85.59 L435.10,85.26 L435.25,84.92 L435.40,84.58 L435.55,84.24 L435.70,83.90 L435.85,83.56 L436.00,83.22 L436.16,82.88 L436.31,82.54 L436.46,82.19 L436.61,81.85 L436.76,81.51 L436.91,81.17 L437.06,80.83 L437.21,80.48 L437.37,80.14 L437.52,79.80 L437.67,79.45 L437.82,79.11 L437.97,78.76 L438.12,78.42 L438.27,78.07 L438.43,77.73 L438.58,77.38 L438.73,77.04 L438.88,76.69 L439.03,76.34 L439.18,76.00 L439.33,75.65 L439.48,75.30 L439.64,74.96 L439.79,74.61 L439.94,74.26 L440.09,73.91 L440.24,73.56 L440.39,73.21 L440.54,72.86 L440.70,72.52 L440.85,72.17 L441.00,71.82 L441.15,71.46 L441.30,71.11 L441.45,70.76 L441.60,70.41 L441.75,70.06 L441.91,69.71 L442.06,69.36 L442.21,69.01 L442.36,68.65 L442.51,68.30 L442.66,67.95 L442.81,67.60 L442.97,67.24 L443.12,66.89 L443.27,66.53 L443.42,66.18 L443.57,65.83 L443.72,65.47 L443.87,65.12 L444.02,64.76 L444.18,64.41 L444.33,64.05 L444.48,63.70 L444.63,63.34 L444.78,62.99 L444.93,62.63 L445.08,62.27 L445.24,61.92 L445.39,61.56 L445.54,61.20 L445.69,60.85 L445.84,60.49 L445.99,60.13 L446.14,59.77 L446.29,59.42 L446.45,59.06 L446.60,58.70 L446.75,58.34 L446.90,57.98 L447.05,57.62 L447.20,57.27 L447.35,56.91 L447.51,56.55 L447.66,56.19 L447.81,55.83 L447.96,55.47 L448.11,55.11 L448.26,54.75 L448.41,54.39 L448.56,54.03 L448.72,53.67 L448.87,53.31 L449.02,52.95 L449.17,52.58 L449.32,52.22 L449.47,51.86 L449.62,51.50 L449.78,51.14 L449.93,50.78 L450.08,50.42 L450.23,50.05 L450.38,49.69 L450.53,49.33 L450.68,48.97 L450.83,48.61 L450.99,48.24 L451.14,47.88 L451.29,47.52 L451.44,47.15 L451.59,46.79 L451.74,46.43 L451.89,46.07 L452.05,45.70 L452.20,45.34 L452.35,44.97 L452.50,44.61 L452.65,44.25 L452.80,43.88 L452.95,43.52 L453.10,43.16 L453.26,42.79 L453.41,42.43 L453.56,42.06 L453.71,41.70 L453.86,41.33 L454.01,40.97 L454.16,40.61 L454.32,40.24 L454.47,39.88 L454.62,39.51 L454.77,39.15 L454.92,38.78 L455.07,38.42 L455.22,38.05 L455.37,37.69 L455.53,37.32 L455.68,36.96 L455.83,36.59 L455.98,36.22 L456.13,35.86 L456.28,35.49 L456.43,35.13 L456.59,34.76 L456.74,34.40 L456.89,34.03 L457.04,33.67 L457.19,33.30 L457.34,32.93 L457.49,32.57 L457.64,32.20 L457.80,31.84 L457.95,31.47 L458.10,31.11 L458.25,30.74 L458.40,30.37 L458.55,30.01 L458.70,29.64 L458.86,29.28 L459.01,28.91 L459.16,28.54 L459.31,28.18 L459.46,27.81 L459.61,27.45 L459.76,27.08 L459.91,26.71 L460.07,26.35 L460.22,25.98 L460.37,25.62 L460.52,25.25 L460.67,24.88 L460.82,24.52 L460.97,24.15 L461.13,23.79 L461.28,23.42 L461.43,23.06 L461.58,22.69 L461.73,22.32 L461.88,21.96 L462.03,21.59 L462.18,21.23 L462.34,20.86 L462.49,20.50 L462.64,20.13 L462.79,19.76 L462.94,19.40 L463.09,19.03 L463.14,18.92 L463.14,125.20 L463.24,124.94 L463.40,124.58 L463.55,124.21 L463.70,123.85 L463.85,123.48 L464.00,123.12 L464.15,122.75 L464.30,122.38 L464.45,122.02 L464.61,121.65 L464.76,121.29 L464.91,120.92 L465.06,120.55 L465.21,120.19 L465.36,119.82 L465.51,119.46 L465.67,119.09 L465.82,118.72 L465.97,118.36 L466.12,117.99 L466.27,117.62 L466.42,117.25 L466.57,116.89 L466.72,116.52 L466.88,116.15 L467.03,115.79 L467.18,115.42 L467.33,115.05 L467.48,114.68 L467.63,114.32 L467.78,113.95 L467.94,113.58 L468.09,113.21 L468.24,112.85 L468.39,112.48 L468.54,112.11 L468.69,111.74 L468.84,111.37 L468.99,111.01 L469.15,110.64 L469.30,110.27 L469.45,109.90 L469.60,109.53 L469.75,109.17 L469.90,108.80 L470.05,108.43 L470.21,108.06 L470.36,107.69 L470.51,107.32 L470.66,106.95 L470.81,106.58 L470.96,106.22 L471.11,105.85 L471.26,105.48 L471.42,105.11 L471.57,104.74 L471.72,104.37 L471.87,104.00 L472.02,103.63 L472.17,103.26 L472.32,102.89 L472.48,102.52 L472.63,102.15 L472.78,101.78 L472.93,101.41 L473.08,101.04 L473.23,100.67 L473.38,100.30 L473.53,99.93 L473.69,99.56 L473.84,99.19 L473.99,98.82 L474.14,98.45 L474.29,98.08 L474.44,97.71 L474.59,97.34 L474.75,96.97 L474.90,96.60 L475.05,96.23 L475.20,95.86 L475.35,95.49 L475.50,95.11 L475.65,94.74 L475.80,94.37 L475.96,94.00 L476.11,93.63 L476.26,93.26 L476.41,92.89 L476.56,92.52 L476.71,92.14 L476.86,91.77 L477.02,91.40 L477.17,91.03 L477.32,90.66 L477.47,90.29 L477.62,89.91 L477.77,89.54 L477.92,89.17 L478.07,88.80 L478.23,88.42 L478.38,88.05 L478.53,87.68 L478.68,87.31 L478.83,86.94 L478.98,86.56 L479.13,86.19 L479.29,85.82 L479.44,85.45 L479.59,85.07 L479.74,84.70 L479.89,84.33 L480.04,83.95 L480.19,83.58 L480.34,83.21 L480.50,82.83 L480.65,82.46 L480.80,82.09 L480.95,81.71 L481.10,81.34 L481.25,80.97 L481.40,80.59 L481.56,80.22 L481.71,79.85 L481.86,79.47 L482.01,79.10 L482.16,78.73 L482.31,78.35 L482.46,77.98 L482.61,77.60 L482.77,77.23 L482.92,76.86 L483.07,76.48 L483.22,76.11 L483.37,75.73 L483.52,75.36 L483.67,74.98 L483.83,74.61 L483.98,74.24 L484.13,73.86 L484.28,73.49 L484.43,73.11 L484.58,72.74 L484.73,72.36 L484.88,71.99 L485.04,71.61 L485.19,71.24 L485.34,70.86 L485.49,70.49 L485.64,70.11 L485.79,69.74 L485.94,69.36 L486.10,68.99 L486.25,68.61 L486.40,68.24 L486.55,67.86 L486.70,67.48 L486.85,67.11 L487.00,66.73 L487.15,66.36 L487.31,65.98 L487.46,65.61 L487.61,65.23 L487.76,64.85 L487.91,64.48 L488.06,64.10 L488.21,63.73 L488.37,63.35 L488.52,62.97 L488.67,62.60 L488.82,62.22 L488.97,61.84 L489.12,61.47 L489.27,61.09 L489.42,60.71 L489.58,60.34 L489.73,59.96 L489.88,59.58 L490.03,59.21 L490.18,58.83 L490.33,58.45 L490.48,58.08 L490.64,57.70 L490.79,57.32 L490.94,56.94 L491.09,56.57 L491.24,56.19 L491.39,55.81 L491.54,55.44 L491.69,55.06 L491.85,54.68 L492.00,54.30 L492.15,53.92 L492.30,53.55 L492.45,53.17 L492.60,52.79 L492.75,52.41 L492.91,52.04 L493.06,51.66 L493.21,51.28 L493.36,50.90 L493.51,50.52 L493.66,50.15 L493.81,49.77 L493.96,49.39 L494.12,49.01 L494.27,48.63 L494.42,48.25 L494.57,47.88 L494.72,47.50 L494.87,47.12 L495.02,46.74 L495.18,46.36 L495.33,45.98 L495.48,45.60 L495.63,45.22 L495.78,44.85 L495.93,44.47 L496.08,44.09 L496.23,43.71 L496.39,43.33 L496.54,42.95 L496.69,42.57 L496.84,42.19 L496.99,41.81 L497.14,41.43 L497.29,41.05 L497.45,40.67 L497.60,40.29 L497.75,39.92 L497.90,39.54 L498.05,39.16 L498.20,38.78 L498.35,38.40 L498.50,38.02 L498.66,37.64 L498.81,37.26 L498.96,36.88 L499.11,36.50 L499.26,36.12 L499.41,35.74 L499.56,35.36 L499.72,34.98 L499.87,34.60 L500.02,34.22 L500.17,33.84 L500.32,33.45 L500.47,33.07 L500.62,32.69 L500.77,32.31 L500.93,31.93 L501.08,31.55 L501.23,31.17 L501.38,30.79 L501.53,30.41 L501.68,30.03 L501.83,29.65 L501.99,29.27 L502.14,28.89 L502.29,28.50 L502.44,28.12 L502.59,27.74 L502.74,27.36 L502.89,26.98 L503.04,26.60 L503.20,26.22 L503.35,25.84 L503.50,25.45 L503.65,25.07 L503.80,24.69 L503.95,24.31 L504.10,23.93 L504.26,23.55 L504.41,23.16 L504.56,22.78 L504.71,22.40 L504.86,22.02 L505.01,21.64 L505.16,21.26 L505.31,20.87 L505.47,20.49 L505.62,20.11 L505.77,19.73 L505.92,19.34 L506.07,18.96 L506.09,18.92 L506.09,125.20 L506.22,124.86 L506.37,124.47 L506.53,124.09 L506.68,123.71 L506.83,123.33 L506.98,122.94 L507.13,122.56 L507.28,122.18 L507.43,121.79 L507.58,121.41 L507.74,121.03 L507.89,120.64 L508.04,120.26 L508.19,119.87 L508.34,119.49 L508.49,119.11 L508.64,118.72 L508.80,118.34 L508.95,117.95 L509.10,117.57 L509.25,117.18 L509.40,116.80 L509.55,116.41 L509.70,116.03 L509.85,115.64 L510.01,115.26 L510.16,114.87 L510.31,114.49 L510.46,114.10 L510.61,113.72 L510.76,113.33 L510.91,112.95 L511.07,112.56 L511.22,112.17 L511.37,111.79 L511.52,111.40 L511.67,111.02 L511.82,110.63 L511.97,110.24 L512.12,109.86 L512.28,109.47 L512.43,109.08 L512.58,108.70 L512.73,108.31 L512.88,107.92 L513.03,107.53 L513.18,107.15 L513.34,106.76 L513.49,106.37 L513.64,105.99 L513.79,105.60 L513.94,105.21 L514.09,104.82 L514.24,104.43 L514.39,104.05 L514.55,103.66 L514.70,103.27 L514.85,102.88 L515.00,102.49 L515.15,102.11 L515.30,101.72 L515.45,101.33 L515.61,100.94 L515.76,100.55 L515.91,100.16 L516.06,99.77 L516.21,99.39 L516.36,99.00 L516.51,98.61 L516.66,98.22 L516.82,97.83 L516.97,97.44 L517.12,97.05 L517.27,96.66 L517.42,96.27 L517.57,95.88 L517.72,95.49 L517.88,95.10 L518.03,94.72 L518.18,94.33 L518.33,93.94 L518.48,93.55 L518.63,93.16 L518.78,92.77 L518.93,92.38 L519.09,91.99 L519.24,91.60 L519.39,91.21 L519.54,90.82 L519.69,90.43 L519.84,90.04 L519.99,89.64 L520.15,89.25 L520.30,88.86 L520.45,88.47 L520.60,88.08 L520.75,87.69 L520.90,87.30 L521.05,86.91 L521.20,86.52 L521.36,86.13 L521.51,85.74 L521.66,85.35 L521.81,84.96 L521.96,84.57 L522.11,84.18 L522.26,83.78 L522.42,83.39 L522.57,83.00 L522.72,82.61 L522.87,82.22 L523.02,81.83 L523.17,81.44 L523.32,81.05 L523.47,80.65 L523.63,80.26 L523.78,79.87 L523.93,79.48 L524.08,79.09 L524.23,78.70 L524.38,78.31 L524.53,77.91 L524.69,77.52 L524.84,77.13 L524.99,76.74 L525.14,76.35 L525.29,75.96 L525.44,75.57 L525.59,75.17 L525.74,74.78 L525.90,74.39 L526.05,74.00 L526.20,73.61 L526.35,73.21 L526.50,72.82 L526.65,72.43 L526.80,72.04 L526.96,71.65 L527.11,71.26 L527.26,70.86 L527.41,70.47 L527.56,70.08 L527.71,69.69 L527.86,69.30 L528.01,68.90 L528.17,68.51 L528.32,68.12 L528.47,67.73 L528.62,67.34 L528.77,66.94 L528.92,66.55 L529.07,66.16 L529.23,65.77 L529.38,65.38 L529.53,64.98 L529.68,64.59 L529.83,64.20 L529.98,63.81 L530.13,63.42 L530.28,63.03 L530.44,62.63 L530.59,62.24 L530.74,61.85 L530.89,61.46 L531.04,61.07 L531.19,60.67 L531.34,60.28 L531.50,59.89 L531.65,59.50 L531.80,59.11 L531.95,58.71 L532.10,58.32 L532.25,57.93 L532.40,57.54 L532.55,57.15 L532.71,56.76 L532.86,56.36 L533.01,55.97 L533.16,55.58 L533.31,55.19 L533.46,54.80 L533.61,54.41 L533.77,54.01 L533.92,53.62 L534.07,53.23 L534.22,52.84 L534.37,52.45 L534.52,52.06 L534.67,51.66 L534.82,51.27 L534.98,50.88 L535.13,50.49 L535.28,50.10 L535.43,49.71 L535.58,49.32 L535.73,48.93 L535.88,48.53 L536.04,48.14 L536.19,47.75 L536.34,47.36 L536.49,46.97 L536.64,46.58 L536.79,46.19 L536.94,45.80 L537.09,45.41 L537.25,45.01 L537.40,44.62 L537.55,44.23 L537.70,43.84" fill="none" stroke="#ff0000" stroke-width="1.8" stroke-dasharray="4 4" stroke-linejoin="round"/>
<path d="M310.70 125.20v-2.3M310.70 6.80v2.3M386.37 125.20v-2.3M386.37 6.80v2.3M462.03 125.20v-2.3M462.03 6.80v2.3M537.70 125.20v-2.3M537.70 6.80v2.3M310.70 125.20h2.3M537.70 125.20h-2.3M310.70 108.29h2.3M537.70 108.29h-2.3M310.70 91.37h2.3M537.70 91.37h-2.3M310.70 74.46h2.3M537.70 74.46h-2.3M310.70 57.54h2.3M537.70 57.54h-2.3M310.70 40.63h2.3M537.70 40.63h-2.3M310.70 23.71h2.3M537.70 23.71h-2.3M310.70 6.80h2.3M537.70 6.80h-2.3" class="tk"/>
<rect x="310.70" y="6.80" width="227.00" height="118.40" class="bx"/>
<text transform="translate(310.70,137.80) scale(1.1,1)" text-anchor="middle" font-family='"Liberation Sans", sans-serif' font-weight="normal" font-size="8.8" fill="#333" >5</text>
<text transform="translate(386.37,137.80) scale(1.1,1)" text-anchor="middle" font-family='"Liberation Sans", sans-serif' font-weight="normal" font-size="8.8" fill="#333" >5.5</text>
<text transform="translate(462.03,137.80) scale(1.1,1)" text-anchor="middle" font-family='"Liberation Sans", sans-serif' font-weight="normal" font-size="8.8" fill="#333" >6</text>
<text transform="translate(537.70,137.80) scale(1.1,1)" text-anchor="middle" font-family='"Liberation Sans", sans-serif' font-weight="normal" font-size="8.8" fill="#333" >6.5</text>
<text transform="translate(307.40,128.50) scale(1.1,1)" text-anchor="end" font-family='"Liberation Sans", sans-serif' font-weight="normal" font-size="8.8" fill="#333" >0</text>
<text transform="translate(307.40,111.59) scale(1.1,1)" text-anchor="end" font-family='"Liberation Sans", sans-serif' font-weight="normal" font-size="8.8" fill="#333" >1</text>
<text transform="translate(307.40,94.67) scale(1.1,1)" text-anchor="end" font-family='"Liberation Sans", sans-serif' font-weight="normal" font-size="8.8" fill="#333" >2</text>
<text transform="translate(307.40,77.76) scale(1.1,1)" text-anchor="end" font-family='"Liberation Sans", sans-serif' font-weight="normal" font-size="8.8" fill="#333" >3</text>
<text transform="translate(307.40,60.84) scale(1.1,1)" text-anchor="end" font-family='"Liberation Sans", sans-serif' font-weight="normal" font-size="8.8" fill="#333" >4</text>
<text transform="translate(307.40,43.93) scale(1.1,1)" text-anchor="end" font-family='"Liberation Sans", sans-serif' font-weight="normal" font-size="8.8" fill="#333" >5</text>
<text transform="translate(307.40,27.01) scale(1.1,1)" text-anchor="end" font-family='"Liberation Sans", sans-serif' font-weight="normal" font-size="8.8" fill="#333" >6</text>
<text transform="translate(307.40,10.10) scale(1.1,1)" text-anchor="end" font-family='"Liberation Sans", sans-serif' font-weight="normal" font-size="8.8" fill="#333" >7</text>
<rect x="317.5" y="12.0" width="85.00" height="19.30" fill="#fff" stroke="#858585" stroke-width="1.0"/>
<line x1="319.9" y1="17.2" x2="342.8" y2="17.2" stroke="#0000ff" stroke-width="1.5"/>
<text x="345.40" y="19.60" textLength="41.00" lengthAdjust="spacingAndGlyphs" font-family='"Liberation Serif", serif' font-weight="bold" font-size="8.4" fill="#000">Measured</text>
<line x1="319.9" y1="25.8" x2="342.8" y2="25.8" stroke="#ff0000" stroke-width="1.5" stroke-dasharray="4.8 4.6"/>
<text x="345.40" y="28.20" textLength="55.00" lengthAdjust="spacingAndGlyphs" font-family='"Liberation Serif", serif' font-weight="bold" font-size="8.4" fill="#000">FLC−MRAS</text>
<text transform="translate(295.80,97.60) scale(1.0,1) rotate(-90)" textLength="67.00" lengthAdjust="spacingAndGlyphs" font-family='"Liberation Serif", serif' font-weight="bold" font-size="12.3" fill="#000">Position (rad)</text>
<text x="403.40" y="150.90" textLength="45.30" lengthAdjust="spacingAndGlyphs" font-family='"Liberation Serif", serif' font-weight="bold" font-size="11.8" fill="#000">Time (s)</text>
<text x="407.00" y="169.60" textLength="16.70" lengthAdjust="spacingAndGlyphs" font-family='"Liberation Serif", serif' font-size="14.0" fill="#000">(<tspan font-weight="bold">b</tspan>)</text>
<line x1="75.41" y1="190.40" x2="75.41" y2="309.10" class="mv"/>
<line x1="80.82" y1="190.40" x2="80.82" y2="309.10" class="mv"/>
<line x1="86.23" y1="190.40" x2="86.23" y2="309.10" class="mv"/>
<line x1="91.65" y1="190.40" x2="91.65" y2="309.10" class="mv"/>
<line x1="102.47" y1="190.40" x2="102.47" y2="309.10" class="mv"/>
<line x1="107.88" y1="190.40" x2="107.88" y2="309.10" class="mv"/>
<line x1="113.29" y1="190.40" x2="113.29" y2="309.10" class="mv"/>
<line x1="118.70" y1="190.40" x2="118.70" y2="309.10" class="mv"/>
<line x1="129.53" y1="190.40" x2="129.53" y2="309.10" class="mv"/>
<line x1="134.94" y1="190.40" x2="134.94" y2="309.10" class="mv"/>
<line x1="140.35" y1="190.40" x2="140.35" y2="309.10" class="mv"/>
<line x1="145.76" y1="190.40" x2="145.76" y2="309.10" class="mv"/>
<line x1="156.58" y1="190.40" x2="156.58" y2="309.10" class="mv"/>
<line x1="161.99" y1="190.40" x2="161.99" y2="309.10" class="mv"/>
<line x1="167.41" y1="190.40" x2="167.41" y2="309.10" class="mv"/>
<line x1="172.82" y1="190.40" x2="172.82" y2="309.10" class="mv"/>
<line x1="183.64" y1="190.40" x2="183.64" y2="309.10" class="mv"/>
<line x1="189.05" y1="190.40" x2="189.05" y2="309.10" class="mv"/>
<line x1="194.46" y1="190.40" x2="194.46" y2="309.10" class="mv"/>
<line x1="199.87" y1="190.40" x2="199.87" y2="309.10" class="mv"/>
<line x1="210.70" y1="190.40" x2="210.70" y2="309.10" class="mv"/>
<line x1="216.11" y1="190.40" x2="216.11" y2="309.10" class="mv"/>
<line x1="221.52" y1="190.40" x2="221.52" y2="309.10" class="mv"/>
<line x1="226.93" y1="190.40" x2="226.93" y2="309.10" class="mv"/>
<line x1="237.75" y1="190.40" x2="237.75" y2="309.10" class="mv"/>
<line x1="243.17" y1="190.40" x2="243.17" y2="309.10" class="mv"/>
<line x1="248.58" y1="190.40" x2="248.58" y2="309.10" class="mv"/>
<line x1="253.99" y1="190.40" x2="253.99" y2="309.10" class="mv"/>
<line x1="70.00" y1="304.15" x2="259.40" y2="304.15" class="mn"/>
<line x1="70.00" y1="299.21" x2="259.40" y2="299.21" class="mn"/>
<line x1="70.00" y1="294.26" x2="259.40" y2="294.26" class="mn"/>
<line x1="70.00" y1="289.32" x2="259.40" y2="289.32" class="mn"/>
<line x1="70.00" y1="284.37" x2="259.40" y2="284.37" class="mn"/>
<line x1="70.00" y1="274.48" x2="259.40" y2="274.48" class="mn"/>
<line x1="70.00" y1="269.53" x2="259.40" y2="269.53" class="mn"/>
<line x1="70.00" y1="264.59" x2="259.40" y2="264.59" class="mn"/>
<line x1="70.00" y1="259.64" x2="259.40" y2="259.64" class="mn"/>
<line x1="70.00" y1="254.70" x2="259.40" y2="254.70" class="mn"/>
<line x1="70.00" y1="244.80" x2="259.40" y2="244.80" class="mn"/>
<line x1="70.00" y1="239.86" x2="259.40" y2="239.86" class="mn"/>
<line x1="70.00" y1="234.91" x2="259.40" y2="234.91" class="mn"/>
<line x1="70.00" y1="229.97" x2="259.40" y2="229.97" class="mn"/>
<line x1="70.00" y1="225.02" x2="259.40" y2="225.02" class="mn"/>
<line x1="70.00" y1="215.13" x2="259.40" y2="215.13" class="mn"/>
<line x1="70.00" y1="210.18" x2="259.40" y2="210.18" class="mn"/>
<line x1="70.00" y1="205.24" x2="259.40" y2="205.24" class="mn"/>
<line x1="70.00" y1="200.29" x2="259.40" y2="200.29" class="mn"/>
<line x1="70.00" y1="195.35" x2="259.40" y2="195.35" class="mn"/>
<line x1="97.06" y1="190.40" x2="97.06" y2="309.10" class="mj"/>
<line x1="124.11" y1="190.40" x2="124.11" y2="309.10" class="mj"/>
<line x1="151.17" y1="190.40" x2="151.17" y2="309.10" class="mj"/>
<line x1="178.23" y1="190.40" x2="178.23" y2="309.10" class="mj"/>
<line x1="205.29" y1="190.40" x2="205.29" y2="309.10" class="mj"/>
<line x1="232.34" y1="190.40" x2="232.34" y2="309.10" class="mj"/>
<line x1="70.00" y1="279.43" x2="259.40" y2="279.43" class="mj"/>
<line x1="70.00" y1="249.75" x2="259.40" y2="249.75" class="mj"/>
<line x1="70.00" y1="220.08" x2="259.40" y2="220.08" class="mj"/>
<line x1="70.0" y1="249.75" x2="259.4" y2="249.75" stroke="#00ff00" stroke-width="1.7"/>
<path d="M70.0,249.75 L83.43,249.75 L83.83,219.3 L84.23,244.5 Q84.53,249.45 86.73,249.75 L259.4,249.75" fill="none" stroke="#ff0000" stroke-width="1.7" stroke-dasharray="4.2 4.4"/>
<path d="M110.59,247.1 L110.89,255.8" stroke="#ff0000" stroke-width="1.6" fill="none"/>
<path d="M110.29,247.95 L112.79,249.75 L110.29,251.55Z" fill="#ff0000"/>
<path d="M232.34,245.2 L232.64,252.8" stroke="#ff0000" stroke-width="1.6" fill="none"/>
<path d="M232.04,247.95 L234.54,249.75 L232.04,251.55Z" fill="#ff0000"/>
<path d="M70.00 309.10v-2.3M70.00 190.40v2.3M97.06 309.10v-2.3M97.06 190.40v2.3M124.11 309.10v-2.3M124.11 190.40v2.3M151.17 309.10v-2.3M151.17 190.40v2.3M178.23 309.10v-2.3M178.23 190.40v2.3M205.29 309.10v-2.3M205.29 190.40v2.3M232.34 309.10v-2.3M232.34 190.40v2.3M259.40 309.10v-2.3M259.40 190.40v2.3M70.00 309.10h2.3M259.40 309.10h-2.3M70.00 279.43h2.3M259.40 279.43h-2.3M70.00 249.75h2.3M259.40 249.75h-2.3M70.00 220.08h2.3M259.40 220.08h-2.3M70.00 190.40h2.3M259.40 190.40h-2.3" class="tk"/>
<rect x="70.00" y="190.40" width="189.40" height="118.70" class="bx"/>
<text transform="translate(70.00,321.00) scale(1.1,1)" text-anchor="middle" font-family='"Liberation Sans", sans-serif' font-weight="normal" font-size="8.4" fill="#333" >0</text>
<text transform="translate(97.06,321.00) scale(1.1,1)" text-anchor="middle" font-family='"Liberation Sans", sans-serif' font-weight="normal" font-size="8.4" fill="#333" >10</text>
<text transform="translate(124.11,321.00) scale(1.1,1)" text-anchor="middle" font-family='"Liberation Sans", sans-serif' font-weight="normal" font-size="8.4" fill="#333" >20</text>
<text transform="translate(151.17,321.00) scale(1.1,1)" text-anchor="middle" font-family='"Liberation Sans", sans-serif' font-weight="normal" font-size="8.4" fill="#333" >30</text>
<text transform="translate(178.23,321.00) scale(1.1,1)" text-anchor="middle" font-family='"Liberation Sans", sans-serif' font-weight="normal" font-size="8.4" fill="#333" >40</text>
<text transform="translate(205.29,321.00) scale(1.1,1)" text-anchor="middle" font-family='"Liberation Sans", sans-serif' font-weight="normal" font-size="8.4" fill="#333" >50</text>
<text transform="translate(232.34,321.00) scale(1.1,1)" text-anchor="middle" font-family='"Liberation Sans", sans-serif' font-weight="normal" font-size="8.4" fill="#333" >60</text>
<text transform="translate(259.40,321.00) scale(1.1,1)" text-anchor="middle" font-family='"Liberation Sans", sans-serif' font-weight="normal" font-size="8.4" fill="#333" >70</text>
<text transform="translate(65.60,312.10) scale(1.14,1)" text-anchor="end" font-family='"Liberation Sans", sans-serif' font-weight="normal" font-size="8.4" fill="#333" >0.2799994</text>
<text transform="translate(65.60,282.43) scale(1.14,1)" text-anchor="end" font-family='"Liberation Sans", sans-serif' font-weight="normal" font-size="8.4" fill="#333" >0.2799997</text>
<text transform="translate(65.60,252.75) scale(1.14,1)" text-anchor="end" font-family='"Liberation Sans", sans-serif' font-weight="normal" font-size="8.4" fill="#333" >0.28</text>
<text transform="translate(65.60,223.08) scale(1.14,1)" text-anchor="end" font-family='"Liberation Sans", sans-serif' font-weight="normal" font-size="8.4" fill="#333" >0.2800003</text>
<text transform="translate(65.60,193.40) scale(1.14,1)" text-anchor="end" font-family='"Liberation Sans", sans-serif' font-weight="normal" font-size="8.4" fill="#333" >0.2800006</text>
<rect x="170.5" y="195.5" width="83.00" height="19.70" fill="#fff" stroke="#858585" stroke-width="1.0"/>
<line x1="172.4" y1="200.3" x2="195.3" y2="200.3" stroke="#00ff00" stroke-width="1.5"/>
<text x="197.60" y="202.70" textLength="27.00" lengthAdjust="spacingAndGlyphs" font-family='"Liberation Serif", serif' font-weight="bold" font-size="8.4" fill="#000">Actual</text>
<line x1="172.4" y1="208.9" x2="195.3" y2="208.9" stroke="#ff0000" stroke-width="1.5" stroke-dasharray="4.8 4.6"/>
<text x="197.60" y="211.30" textLength="52.70" lengthAdjust="spacingAndGlyphs" font-family='"Liberation Serif", serif' font-weight="bold" font-size="8.4" fill="#000">FLC−MRAS</text>
<text transform="translate(15.20,272.50) scale(1.0,1) rotate(-90)" textLength="49.40" lengthAdjust="spacingAndGlyphs" font-family='"Liberation Serif", serif' font-weight="bold" font-size="12.3" fill="#000">Flux (Wb)</text>
<text x="144.40" y="334.50" textLength="44.10" lengthAdjust="spacingAndGlyphs" font-family='"Liberation Serif", serif' font-weight="bold" font-size="11.8" fill="#000">Time (s)</text>
<text x="129.40" y="353.40" textLength="14.40" lengthAdjust="spacingAndGlyphs" font-family='"Liberation Serif", serif' font-size="14.0" fill="#000">(<tspan font-weight="bold">c</tspan>)</text>
<line x1="351.03" y1="198.50" x2="351.03" y2="310.00" class="mv"/>
<line x1="356.57" y1="198.50" x2="356.57" y2="310.00" class="mv"/>
<line x1="362.10" y1="198.50" x2="362.10" y2="310.00" class="mv"/>
<line x1="367.64" y1="198.50" x2="367.64" y2="310.00" class="mv"/>
<line x1="378.71" y1="198.50" x2="378.71" y2="310.00" class="mv"/>
<line x1="384.24" y1="198.50" x2="384.24" y2="310.00" class="mv"/>
<line x1="389.77" y1="198.50" x2="389.77" y2="310.00" class="mv"/>
<line x1="395.31" y1="198.50" x2="395.31" y2="310.00" class="mv"/>
<line x1="406.38" y1="198.50" x2="406.38" y2="310.00" class="mv"/>
<line x1="411.91" y1="198.50" x2="411.91" y2="310.00" class="mv"/>
<line x1="417.45" y1="198.50" x2="417.45" y2="310.00" class="mv"/>
<line x1="422.98" y1="198.50" x2="422.98" y2="310.00" class="mv"/>
<line x1="434.05" y1="198.50" x2="434.05" y2="310.00" class="mv"/>
<line x1="439.58" y1="198.50" x2="439.58" y2="310.00" class="mv"/>
<line x1="445.12" y1="198.50" x2="445.12" y2="310.00" class="mv"/>
<line x1="450.65" y1="198.50" x2="450.65" y2="310.00" class="mv"/>
<line x1="461.72" y1="198.50" x2="461.72" y2="310.00" class="mv"/>
<line x1="467.25" y1="198.50" x2="467.25" y2="310.00" class="mv"/>
<line x1="472.79" y1="198.50" x2="472.79" y2="310.00" class="mv"/>
<line x1="478.32" y1="198.50" x2="478.32" y2="310.00" class="mv"/>
<line x1="489.39" y1="198.50" x2="489.39" y2="310.00" class="mv"/>
<line x1="494.93" y1="198.50" x2="494.93" y2="310.00" class="mv"/>
<line x1="500.46" y1="198.50" x2="500.46" y2="310.00" class="mv"/>
<line x1="505.99" y1="198.50" x2="505.99" y2="310.00" class="mv"/>
<line x1="517.06" y1="198.50" x2="517.06" y2="310.00" class="mv"/>
<line x1="522.60" y1="198.50" x2="522.60" y2="310.00" class="mv"/>
<line x1="528.13" y1="198.50" x2="528.13" y2="310.00" class="mv"/>
<line x1="533.67" y1="198.50" x2="533.67" y2="310.00" class="mv"/>
<line x1="345.50" y1="306.03" x2="539.20" y2="306.03" class="mn"/>
<line x1="345.50" y1="302.07" x2="539.20" y2="302.07" class="mn"/>
<line x1="345.50" y1="298.10" x2="539.20" y2="298.10" class="mn"/>
<line x1="345.50" y1="294.14" x2="539.20" y2="294.14" class="mn"/>
<line x1="345.50" y1="290.17" x2="539.20" y2="290.17" class="mn"/>
<line x1="345.50" y1="282.24" x2="539.20" y2="282.24" class="mn"/>
<line x1="345.50" y1="278.28" x2="539.20" y2="278.28" class="mn"/>
<line x1="345.50" y1="274.31" x2="539.20" y2="274.31" class="mn"/>
<line x1="345.50" y1="270.35" x2="539.20" y2="270.35" class="mn"/>
<line x1="345.50" y1="266.38" x2="539.20" y2="266.38" class="mn"/>
<line x1="345.50" y1="258.45" x2="539.20" y2="258.45" class="mn"/>
<line x1="345.50" y1="254.49" x2="539.20" y2="254.49" class="mn"/>
<line x1="345.50" y1="250.52" x2="539.20" y2="250.52" class="mn"/>
<line x1="345.50" y1="246.56" x2="539.20" y2="246.56" class="mn"/>
<line x1="345.50" y1="242.59" x2="539.20" y2="242.59" class="mn"/>
<line x1="345.50" y1="234.66" x2="539.20" y2="234.66" class="mn"/>
<line x1="345.50" y1="230.70" x2="539.20" y2="230.70" class="mn"/>
<line x1="345.50" y1="226.73" x2="539.20" y2="226.73" class="mn"/>
<line x1="345.50" y1="222.77" x2="539.20" y2="222.77" class="mn"/>
<line x1="345.50" y1="218.80" x2="539.20" y2="218.80" class="mn"/>
<line x1="345.50" y1="210.87" x2="539.20" y2="210.87" class="mn"/>
<line x1="345.50" y1="206.91" x2="539.20" y2="206.91" class="mn"/>
<line x1="345.50" y1="202.94" x2="539.20" y2="202.94" class="mn"/>
<line x1="373.17" y1="198.50" x2="373.17" y2="310.00" class="mj"/>
<line x1="400.84" y1="198.50" x2="400.84" y2="310.00" class="mj"/>
<line x1="428.51" y1="198.50" x2="428.51" y2="310.00" class="mj"/>
<line x1="456.19" y1="198.50" x2="456.19" y2="310.00" class="mj"/>
<line x1="483.86" y1="198.50" x2="483.86" y2="310.00" class="mj"/>
<line x1="511.53" y1="198.50" x2="511.53" y2="310.00" class="mj"/>
<line x1="345.50" y1="286.21" x2="539.20" y2="286.21" class="mj"/>
<line x1="345.50" y1="262.42" x2="539.20" y2="262.42" class="mj"/>
<line x1="345.50" y1="238.63" x2="539.20" y2="238.63" class="mj"/>
<line x1="345.50" y1="214.84" x2="539.20" y2="214.84" class="mj"/>
<line x1="345.5" y1="262.42" x2="539.2" y2="262.42" stroke="#00ff00" stroke-width="1.7"/>
<path d="M345.5,262.42 L359.24,262.42 L359.64,232.0 L359.84,256 Q360.14,261.82 361.84,262.22 L512.03,262.22 L513.03,261.32 L539.2,261.32" fill="none" stroke="#ff0000" stroke-width="1.7" stroke-dasharray="4.2 4.4"/>
<path d="M387.01,259.3 L387.31,268.5" stroke="#ff0000" stroke-width="1.6" fill="none" stroke-dasharray="2.5 1.6"/>
<path d="M386.71,260.42 L389.21,262.22 L386.71,264.02Z" fill="#ff0000"/>
<path d="M511.53,256.0 L511.83,264.5" stroke="#ff0000" stroke-width="1.6" fill="none" stroke-dasharray="2.5 1.6"/>
<path d="M511.23,260.12 L513.73,261.92 L511.23,263.72Z" fill="#ff0000"/>
<path d="M345.50 310.00v-2.3M345.50 198.50v2.3M373.17 310.00v-2.3M373.17 198.50v2.3M400.84 310.00v-2.3M400.84 198.50v2.3M428.51 310.00v-2.3M428.51 198.50v2.3M456.19 310.00v-2.3M456.19 198.50v2.3M483.86 310.00v-2.3M483.86 198.50v2.3M511.53 310.00v-2.3M511.53 198.50v2.3M539.20 310.00v-2.3M539.20 198.50v2.3M345.50 310.00h2.3M539.20 310.00h-2.3M345.50 286.21h2.3M539.20 286.21h-2.3M345.50 262.42h2.3M539.20 262.42h-2.3M345.50 238.63h2.3M539.20 238.63h-2.3M345.50 214.84h2.3M539.20 214.84h-2.3" class="tk"/>
<rect x="345.50" y="198.50" width="193.70" height="111.50" class="bx"/>
<text transform="translate(345.50,322.30) scale(1.1,1)" text-anchor="middle" font-family='"Liberation Sans", sans-serif' font-weight="normal" font-size="8.4" fill="#333" >0</text>
<text transform="translate(373.17,322.30) scale(1.1,1)" text-anchor="middle" font-family='"Liberation Sans", sans-serif' font-weight="normal" font-size="8.4" fill="#333" >10</text>
<text transform="translate(400.84,322.30) scale(1.1,1)" text-anchor="middle" font-family='"Liberation Sans", sans-serif' font-weight="normal" font-size="8.4" fill="#333" >20</text>
<text transform="translate(428.51,322.30) scale(1.1,1)" text-anchor="middle" font-family='"Liberation Sans", sans-serif' font-weight="normal" font-size="8.4" fill="#333" >30</text>
<text transform="translate(456.19,322.30) scale(1.1,1)" text-anchor="middle" font-family='"Liberation Sans", sans-serif' font-weight="normal" font-size="8.4" fill="#333" >40</text>
<text transform="translate(483.86,322.30) scale(1.1,1)" text-anchor="middle" font-family='"Liberation Sans", sans-serif' font-weight="normal" font-size="8.4" fill="#333" >50</text>
<text transform="translate(511.53,322.30) scale(1.1,1)" text-anchor="middle" font-family='"Liberation Sans", sans-serif' font-weight="normal" font-size="8.4" fill="#333" >60</text>
<text transform="translate(539.20,322.30) scale(1.1,1)" text-anchor="middle" font-family='"Liberation Sans", sans-serif' font-weight="normal" font-size="8.4" fill="#333" >70</text>
<text transform="translate(341.60,313.00) scale(1.16,1)" text-anchor="end" font-family='"Liberation Sans", sans-serif' font-weight="normal" font-size="8.3" fill="#333" >8.299994</text>
<text transform="translate(341.60,289.21) scale(1.16,1)" text-anchor="end" font-family='"Liberation Sans", sans-serif' font-weight="normal" font-size="8.3" fill="#333" >8.299997</text>
<text transform="translate(341.60,265.42) scale(1.16,1)" text-anchor="end" font-family='"Liberation Sans", sans-serif' font-weight="normal" font-size="8.3" fill="#333" >8.3</text>
<text transform="translate(341.60,241.63) scale(1.16,1)" text-anchor="end" font-family='"Liberation Sans", sans-serif' font-weight="normal" font-size="8.3" fill="#333" >8.300003</text>
<text transform="translate(341.60,217.84) scale(1.16,1)" text-anchor="end" font-family='"Liberation Sans", sans-serif' font-weight="normal" font-size="8.3" fill="#333" >8.300006</text>
<text transform="translate(346.30,196.60) scale(1.1,1)" text-anchor="start" font-family='"Liberation Sans", sans-serif' font-weight="normal" font-size="9.2" fill="#333" >×</text>
<text transform="translate(353.00,196.60) scale(1.18,1)" text-anchor="start" font-family='"Liberation Sans", sans-serif' font-weight="normal" font-size="9.0" fill="#333" >10</text>
<text transform="translate(364.80,193.00) scale(1.1,1)" text-anchor="start" font-family='"Liberation Sans", sans-serif' font-weight="normal" font-size="6.6" fill="#333" >-3</text>
<rect x="450.5" y="203.6" width="83.00" height="18.10" fill="#fff" stroke="#858585" stroke-width="1.0"/>
<line x1="452.4" y1="208.4" x2="475.9" y2="208.4" stroke="#00ff00" stroke-width="1.5"/>
<text x="478.20" y="210.80" textLength="26.70" lengthAdjust="spacingAndGlyphs" font-family='"Liberation Serif", serif' font-weight="bold" font-size="8.4" fill="#000">Actual</text>
<line x1="452.4" y1="216.0" x2="475.9" y2="216.0" stroke="#ff0000" stroke-width="1.5" stroke-dasharray="4.8 4.6"/>
<text x="478.20" y="218.40" textLength="52.50" lengthAdjust="spacingAndGlyphs" font-family='"Liberation Serif", serif' font-weight="bold" font-size="8.4" fill="#000">FLC−MRAS</text>
<text transform="translate(295.40,268.20) scale(1.0,1) rotate(-90)" textLength="30.50" lengthAdjust="spacingAndGlyphs" font-family='"Liberation Serif", serif' font-weight="bold" font-size="12.3" fill="#000">Lq (H)</text>
<text x="422.40" y="334.80" textLength="43.70" lengthAdjust="spacingAndGlyphs" font-family='"Liberation Serif", serif' font-weight="bold" font-size="11.8" fill="#000">Time (s)</text>
<text x="408.70" y="353.40" textLength="16.40" lengthAdjust="spacingAndGlyphs" font-family='"Liberation Serif", serif' font-size="14.0" fill="#000">(<tspan font-weight="bold">d</tspan>)</text>
<line x1="46.85" y1="381.60" x2="46.85" y2="494.40" class="mv"/>
<line x1="53.10" y1="381.60" x2="53.10" y2="494.40" class="mv"/>
<line x1="59.35" y1="381.60" x2="59.35" y2="494.40" class="mv"/>
<line x1="65.61" y1="381.60" x2="65.61" y2="494.40" class="mv"/>
<line x1="78.11" y1="381.60" x2="78.11" y2="494.40" class="mv"/>
<line x1="84.36" y1="381.60" x2="84.36" y2="494.40" class="mv"/>
<line x1="90.61" y1="381.60" x2="90.61" y2="494.40" class="mv"/>
<line x1="96.86" y1="381.60" x2="96.86" y2="494.40" class="mv"/>
<line x1="109.37" y1="381.60" x2="109.37" y2="494.40" class="mv"/>
<line x1="115.62" y1="381.60" x2="115.62" y2="494.40" class="mv"/>
<line x1="121.87" y1="381.60" x2="121.87" y2="494.40" class="mv"/>
<line x1="128.12" y1="381.60" x2="128.12" y2="494.40" class="mv"/>
<line x1="140.62" y1="381.60" x2="140.62" y2="494.40" class="mv"/>
<line x1="146.87" y1="381.60" x2="146.87" y2="494.40" class="mv"/>
<line x1="153.13" y1="381.60" x2="153.13" y2="494.40" class="mv"/>
<line x1="159.38" y1="381.60" x2="159.38" y2="494.40" class="mv"/>
<line x1="171.88" y1="381.60" x2="171.88" y2="494.40" class="mv"/>
<line x1="178.13" y1="381.60" x2="178.13" y2="494.40" class="mv"/>
<line x1="184.38" y1="381.60" x2="184.38" y2="494.40" class="mv"/>
<line x1="190.63" y1="381.60" x2="190.63" y2="494.40" class="mv"/>
<line x1="203.14" y1="381.60" x2="203.14" y2="494.40" class="mv"/>
<line x1="209.39" y1="381.60" x2="209.39" y2="494.40" class="mv"/>
<line x1="215.64" y1="381.60" x2="215.64" y2="494.40" class="mv"/>
<line x1="221.89" y1="381.60" x2="221.89" y2="494.40" class="mv"/>
<line x1="234.39" y1="381.60" x2="234.39" y2="494.40" class="mv"/>
<line x1="240.65" y1="381.60" x2="240.65" y2="494.40" class="mv"/>
<line x1="246.90" y1="381.60" x2="246.90" y2="494.40" class="mv"/>
<line x1="253.15" y1="381.60" x2="253.15" y2="494.40" class="mv"/>
<line x1="40.60" y1="488.76" x2="259.40" y2="488.76" class="mn"/>
<line x1="40.60" y1="483.12" x2="259.40" y2="483.12" class="mn"/>
<line x1="40.60" y1="477.48" x2="259.40" y2="477.48" class="mn"/>
<line x1="40.60" y1="471.84" x2="259.40" y2="471.84" class="mn"/>
<line x1="40.60" y1="460.56" x2="259.40" y2="460.56" class="mn"/>
<line x1="40.60" y1="454.92" x2="259.40" y2="454.92" class="mn"/>
<line x1="40.60" y1="449.28" x2="259.40" y2="449.28" class="mn"/>
<line x1="40.60" y1="443.64" x2="259.40" y2="443.64" class="mn"/>
<line x1="40.60" y1="432.36" x2="259.40" y2="432.36" class="mn"/>
<line x1="40.60" y1="426.72" x2="259.40" y2="426.72" class="mn"/>
<line x1="40.60" y1="421.08" x2="259.40" y2="421.08" class="mn"/>
<line x1="40.60" y1="415.44" x2="259.40" y2="415.44" class="mn"/>
<line x1="40.60" y1="404.16" x2="259.40" y2="404.16" class="mn"/>
<line x1="40.60" y1="398.52" x2="259.40" y2="398.52" class="mn"/>
<line x1="40.60" y1="392.88" x2="259.40" y2="392.88" class="mn"/>
<line x1="40.60" y1="387.24" x2="259.40" y2="387.24" class="mn"/>
<line x1="71.86" y1="381.60" x2="71.86" y2="494.40" class="mj"/>
<line x1="103.11" y1="381.60" x2="103.11" y2="494.40" class="mj"/>
<line x1="134.37" y1="381.60" x2="134.37" y2="494.40" class="mj"/>
<line x1="165.63" y1="381.60" x2="165.63" y2="494.40" class="mj"/>
<line x1="196.89" y1="381.60" x2="196.89" y2="494.40" class="mj"/>
<line x1="228.14" y1="381.60" x2="228.14" y2="494.40" class="mj"/>
<line x1="40.60" y1="466.20" x2="259.40" y2="466.20" class="mj"/>
<line x1="40.60" y1="438.00" x2="259.40" y2="438.00" class="mj"/>
<line x1="40.60" y1="409.80" x2="259.40" y2="409.80" class="mj"/>
<path d="M40.6,438.00 L55.9,438.00 L56.6,420.4 Q57.4,420.8 58.2,430 Q59.3,437.70 62,438.00 L87.49,438.00 L87.49,427.0 L87.79,451.9 L87.99,438.00 L228.14,438.00 L228.14,424.0 L228.44,448.7 L228.64,438.00 L259.4,438.00" fill="none" stroke="#ff0000" stroke-width="2.0" stroke-linejoin="round"/>
<path d="M87.49,433.00 L90.09,438.00 L87.49,443.00Z" fill="#ff0000"/>
<path d="M228.14,433.00 L230.74,438.00 L228.14,443.00Z" fill="#ff0000"/>
<path d="M40.60 494.40v-2.3M40.60 381.60v2.3M71.86 494.40v-2.3M71.86 381.60v2.3M103.11 494.40v-2.3M103.11 381.60v2.3M134.37 494.40v-2.3M134.37 381.60v2.3M165.63 494.40v-2.3M165.63 381.60v2.3M196.89 494.40v-2.3M196.89 381.60v2.3M228.14 494.40v-2.3M228.14 381.60v2.3M259.40 494.40v-2.3M259.40 381.60v2.3M40.60 494.40h2.3M259.40 494.40h-2.3M40.60 466.20h2.3M259.40 466.20h-2.3M40.60 438.00h2.3M259.40 438.00h-2.3M40.60 409.80h2.3M259.40 409.80h-2.3M40.60 381.60h2.3M259.40 381.60h-2.3" class="tk"/>
<rect x="40.60" y="381.60" width="218.80" height="112.80" class="bx"/>
<text transform="translate(40.60,505.80) scale(1.1,1)" text-anchor="middle" font-family='"Liberation Sans", sans-serif' font-weight="normal" font-size="8.2" fill="#333" >0</text>
<text transform="translate(71.86,505.80) scale(1.1,1)" text-anchor="middle" font-family='"Liberation Sans", sans-serif' font-weight="normal" font-size="8.2" fill="#333" >10</text>
<text transform="translate(103.11,505.80) scale(1.1,1)" text-anchor="middle" font-family='"Liberation Sans", sans-serif' font-weight="normal" font-size="8.2" fill="#333" >20</text>
<text transform="translate(134.37,505.80) scale(1.1,1)" text-anchor="middle" font-family='"Liberation Sans", sans-serif' font-weight="normal" font-size="8.2" fill="#333" >30</text>
<text transform="translate(165.63,505.80) scale(1.1,1)" text-anchor="middle" font-family='"Liberation Sans", sans-serif' font-weight="normal" font-size="8.2" fill="#333" >40</text>
<text transform="translate(196.89,505.80) scale(1.1,1)" text-anchor="middle" font-family='"Liberation Sans", sans-serif' font-weight="normal" font-size="8.2" fill="#333" >50</text>
<text transform="translate(228.14,505.80) scale(1.1,1)" text-anchor="middle" font-family='"Liberation Sans", sans-serif' font-weight="normal" font-size="8.2" fill="#333" >60</text>
<text transform="translate(259.40,505.80) scale(1.1,1)" text-anchor="middle" font-family='"Liberation Sans", sans-serif' font-weight="normal" font-size="8.2" fill="#333" >70</text>
<text transform="translate(36.00,498.10) scale(1.1,1)" text-anchor="end" font-family='"Liberation Sans", sans-serif' font-weight="normal" font-size="8.2" fill="#333" >-5</text>
<text transform="translate(36.00,469.90) scale(1.1,1)" text-anchor="end" font-family='"Liberation Sans", sans-serif' font-weight="normal" font-size="8.2" fill="#333" >-2.5</text>
<text transform="translate(36.00,441.70) scale(1.1,1)" text-anchor="end" font-family='"Liberation Sans", sans-serif' font-weight="normal" font-size="8.2" fill="#333" >0</text>
<text transform="translate(36.00,413.50) scale(1.1,1)" text-anchor="end" font-family='"Liberation Sans", sans-serif' font-weight="normal" font-size="8.2" fill="#333" >2.5</text>
<text transform="translate(36.00,385.30) scale(1.1,1)" text-anchor="end" font-family='"Liberation Sans", sans-serif' font-weight="normal" font-size="8.2" fill="#333" >5</text>
<text transform="translate(41.60,379.80) scale(1.1,1)" text-anchor="start" font-family='"Liberation Sans", sans-serif' font-weight="normal" font-size="9.2" fill="#333" >×</text>
<text transform="translate(48.00,379.80) scale(1.15,1)" text-anchor="start" font-family='"Liberation Sans", sans-serif' font-weight="normal" font-size="9.0" fill="#333" >10</text>
<text transform="translate(59.90,376.20) scale(1.1,1)" text-anchor="start" font-family='"Liberation Sans", sans-serif' font-weight="normal" font-size="6.6" fill="#333" >-5</text>
<rect x="170.5" y="386.7" width="83.00" height="9.00" fill="#fff" stroke="#858585" stroke-width="1.0"/>
<line x1="172.4" y1="391.5" x2="195.3" y2="391.5" stroke="#ff0000" stroke-width="1.5"/>
<text x="197.40" y="393.90" textLength="53.30" lengthAdjust="spacingAndGlyphs" font-family='"Liberation Serif", serif' font-weight="bold" font-size="8.4" fill="#000">FLC−MRAS</text>
<text transform="translate(14.60,479.40) scale(1.0,1) rotate(-90)" textLength="84.00" lengthAdjust="spacingAndGlyphs" font-family='"Liberation Serif", serif' font-weight="bold" font-size="12.3" fill="#000">Speed error (rpm)</text>
<text x="129.60" y="518.40" textLength="44.20" lengthAdjust="spacingAndGlyphs" font-family='"Liberation Serif", serif' font-weight="bold" font-size="11.5" fill="#000">Time (s)</text>
<text x="127.00" y="537.30" textLength="15.60" lengthAdjust="spacingAndGlyphs" font-family='"Liberation Serif", serif' font-size="14.0" fill="#000">(<tspan font-weight="bold">e</tspan>)</text>
<line x1="320.93" y1="381.60" x2="320.93" y2="495.30" class="mv"/>
<line x1="327.36" y1="381.60" x2="327.36" y2="495.30" class="mv"/>
<line x1="333.79" y1="381.60" x2="333.79" y2="495.30" class="mv"/>
<line x1="340.23" y1="381.60" x2="340.23" y2="495.30" class="mv"/>
<line x1="353.09" y1="381.60" x2="353.09" y2="495.30" class="mv"/>
<line x1="359.52" y1="381.60" x2="359.52" y2="495.30" class="mv"/>
<line x1="365.95" y1="381.60" x2="365.95" y2="495.30" class="mv"/>
<line x1="372.38" y1="381.60" x2="372.38" y2="495.30" class="mv"/>
<line x1="385.25" y1="381.60" x2="385.25" y2="495.30" class="mv"/>
<line x1="391.68" y1="381.60" x2="391.68" y2="495.30" class="mv"/>
<line x1="398.11" y1="381.60" x2="398.11" y2="495.30" class="mv"/>
<line x1="404.54" y1="381.60" x2="404.54" y2="495.30" class="mv"/>
<line x1="417.40" y1="381.60" x2="417.40" y2="495.30" class="mv"/>
<line x1="423.83" y1="381.60" x2="423.83" y2="495.30" class="mv"/>
<line x1="430.27" y1="381.60" x2="430.27" y2="495.30" class="mv"/>
<line x1="436.70" y1="381.60" x2="436.70" y2="495.30" class="mv"/>
<line x1="449.56" y1="381.60" x2="449.56" y2="495.30" class="mv"/>
<line x1="455.99" y1="381.60" x2="455.99" y2="495.30" class="mv"/>
<line x1="462.42" y1="381.60" x2="462.42" y2="495.30" class="mv"/>
<line x1="468.85" y1="381.60" x2="468.85" y2="495.30" class="mv"/>
<line x1="481.72" y1="381.60" x2="481.72" y2="495.30" class="mv"/>
<line x1="488.15" y1="381.60" x2="488.15" y2="495.30" class="mv"/>
<line x1="494.58" y1="381.60" x2="494.58" y2="495.30" class="mv"/>
<line x1="501.01" y1="381.60" x2="501.01" y2="495.30" class="mv"/>
<line x1="513.87" y1="381.60" x2="513.87" y2="495.30" class="mv"/>
<line x1="520.31" y1="381.60" x2="520.31" y2="495.30" class="mv"/>
<line x1="526.74" y1="381.60" x2="526.74" y2="495.30" class="mv"/>
<line x1="533.17" y1="381.60" x2="533.17" y2="495.30" class="mv"/>
<line x1="314.50" y1="483.93" x2="539.60" y2="483.93" class="mn"/>
<line x1="314.50" y1="472.56" x2="539.60" y2="472.56" class="mn"/>
<line x1="314.50" y1="461.19" x2="539.60" y2="461.19" class="mn"/>
<line x1="314.50" y1="449.82" x2="539.60" y2="449.82" class="mn"/>
<line x1="314.50" y1="427.08" x2="539.60" y2="427.08" class="mn"/>
<line x1="314.50" y1="415.71" x2="539.60" y2="415.71" class="mn"/>
<line x1="314.50" y1="404.34" x2="539.60" y2="404.34" class="mn"/>
<line x1="314.50" y1="392.97" x2="539.60" y2="392.97" class="mn"/>
<line x1="346.66" y1="381.60" x2="346.66" y2="495.30" class="mj"/>
<line x1="378.81" y1="381.60" x2="378.81" y2="495.30" class="mj"/>
<line x1="410.97" y1="381.60" x2="410.97" y2="495.30" class="mj"/>
<line x1="443.13" y1="381.60" x2="443.13" y2="495.30" class="mj"/>
<line x1="475.29" y1="381.60" x2="475.29" y2="495.30" class="mj"/>
<line x1="507.44" y1="381.60" x2="507.44" y2="495.30" class="mj"/>
<line x1="314.50" y1="438.45" x2="539.60" y2="438.45" class="mj"/>
<path d="M314.5,438.45 L330.6,438.45 L331.2,473.2 L332.3,446 Q332.9,438.45 336,438.45 L362.74,438.45 L362.74,430.8 L363.04,443.5 L363.24,438.45 L507.44,438.45 L507.44,434.3 L507.74,446.4 L507.94,438.45 L539.6,438.45" fill="none" stroke="#ff0000" stroke-width="2.0" stroke-linejoin="round"/>
<path d="M362.74,434.95 L364.54,438.45 L362.74,441.95Z" fill="#ff0000"/>
<path d="M507.44,434.95 L509.24,438.45 L507.44,441.95Z" fill="#ff0000"/>
<path d="M314.50 495.30v-2.3M314.50 381.60v2.3M346.66 495.30v-2.3M346.66 381.60v2.3M378.81 495.30v-2.3M378.81 381.60v2.3M410.97 495.30v-2.3M410.97 381.60v2.3M443.13 495.30v-2.3M443.13 381.60v2.3M475.29 495.30v-2.3M475.29 381.60v2.3M507.44 495.30v-2.3M507.44 381.60v2.3M539.60 495.30v-2.3M539.60 381.60v2.3M314.50 495.30h2.3M539.60 495.30h-2.3M314.50 438.45h2.3M539.60 438.45h-2.3M314.50 381.60h2.3M539.60 381.60h-2.3" class="tk"/>
<rect x="314.50" y="381.60" width="225.10" height="113.70" class="bx"/>
<text transform="translate(314.50,507.30) scale(1.1,1)" text-anchor="middle" font-family='"Liberation Sans", sans-serif' font-weight="normal" font-size="8.2" fill="#333" >0</text>
<text transform="translate(346.66,507.30) scale(1.1,1)" text-anchor="middle" font-family='"Liberation Sans", sans-serif' font-weight="normal" font-size="8.2" fill="#333" >10</text>
<text transform="translate(378.81,507.30) scale(1.1,1)" text-anchor="middle" font-family='"Liberation Sans", sans-serif' font-weight="normal" font-size="8.2" fill="#333" >20</text>
<text transform="translate(410.97,507.30) scale(1.1,1)" text-anchor="middle" font-family='"Liberation Sans", sans-serif' font-weight="normal" font-size="8.2" fill="#333" >30</text>
<text transform="translate(443.13,507.30) scale(1.1,1)" text-anchor="middle" font-family='"Liberation Sans", sans-serif' font-weight="normal" font-size="8.2" fill="#333" >40</text>
<text transform="translate(475.29,507.30) scale(1.1,1)" text-anchor="middle" font-family='"Liberation Sans", sans-serif' font-weight="normal" font-size="8.2" fill="#333" >50</text>
<text transform="translate(507.44,507.30) scale(1.1,1)" text-anchor="middle" font-family='"Liberation Sans", sans-serif' font-weight="normal" font-size="8.2" fill="#333" >60</text>
<text transform="translate(539.60,507.30) scale(1.1,1)" text-anchor="middle" font-family='"Liberation Sans", sans-serif' font-weight="normal" font-size="8.2" fill="#333" >70</text>
<text transform="translate(310.80,499.00) scale(1.1,1)" text-anchor="end" font-family='"Liberation Sans", sans-serif' font-weight="normal" font-size="8.2" fill="#333" >-5</text>
<text transform="translate(310.80,442.15) scale(1.1,1)" text-anchor="end" font-family='"Liberation Sans", sans-serif' font-weight="normal" font-size="8.2" fill="#333" >0</text>
<text transform="translate(310.80,385.30) scale(1.1,1)" text-anchor="end" font-family='"Liberation Sans", sans-serif' font-weight="normal" font-size="8.2" fill="#333" >5</text>
<text transform="translate(315.70,379.80) scale(1.1,1)" text-anchor="start" font-family='"Liberation Sans", sans-serif' font-weight="normal" font-size="9.2" fill="#333" >×</text>
<text transform="translate(322.50,379.80) scale(1.1,1)" text-anchor="start" font-family='"Liberation Sans", sans-serif' font-weight="normal" font-size="9.0" fill="#333" >10</text>
<text transform="translate(334.20,375.90) scale(1.1,1)" text-anchor="start" font-family='"Liberation Sans", sans-serif' font-weight="normal" font-size="6.6" fill="#333" >-7</text>
<rect x="448.4" y="386.8" width="84.10" height="9.80" fill="#fff" stroke="#858585" stroke-width="1.0"/>
<line x1="450.7" y1="391.4" x2="473.4" y2="391.4" stroke="#ff0000" stroke-width="1.5"/>
<text x="475.70" y="393.80" textLength="54.80" lengthAdjust="spacingAndGlyphs" font-family='"Liberation Serif", serif' font-weight="bold" font-size="8.4" fill="#000">FLC−MRAS</text>
<text transform="translate(296.10,474.40) scale(1.0,1) rotate(-90)" textLength="75.00" lengthAdjust="spacingAndGlyphs" font-family='"Liberation Serif", serif' font-weight="bold" font-size="12.3" fill="#000">Flux error (Wb)</text>
<text x="408.60" y="519.10" textLength="39.80" lengthAdjust="spacingAndGlyphs" font-family='"Liberation Serif", serif' font-weight="bold" font-size="10.6" fill="#000">Time (s)</text>
<text x="408.70" y="537.30" textLength="13.40" lengthAdjust="spacingAndGlyphs" font-family='"Liberation Serif", serif' font-size="14.0" fill="#000">(<tspan font-weight="bold">f</tspan>)</text>
</svg>
</body></html>
